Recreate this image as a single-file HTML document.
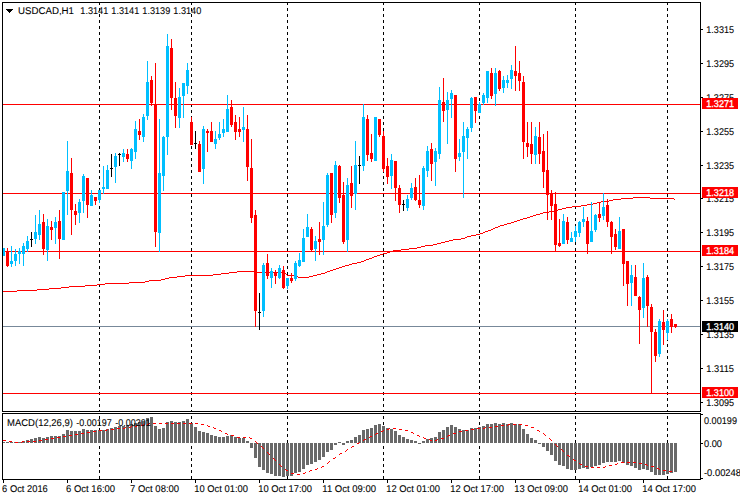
<!DOCTYPE html>
<html><head><meta charset="utf-8"><title>USDCAD,H1</title>
<style>
html,body{margin:0;padding:0;background:#fff;}
body{width:740px;height:500px;overflow:hidden;}
svg{display:block;}
svg rect{shape-rendering:crispEdges;}
svg text{font-family:"Liberation Sans",sans-serif;font-size:9.8px;text-rendering:geometricPrecision;stroke-width:0.08px;}
svg text.w{stroke-width:0.3px;}
</style></head><body>
<svg width="740" height="500" viewBox="0 0 740 500">
<rect x="0" y="0" width="740" height="500" fill="#fff"/>
<rect x="99" y="3" width="1" height="2" fill="#000000"/>
<rect x="99" y="8" width="1" height="3" fill="#000000"/>
<rect x="99" y="14" width="1" height="3" fill="#000000"/>
<rect x="99" y="20" width="1" height="3" fill="#000000"/>
<rect x="99" y="26" width="1" height="3" fill="#000000"/>
<rect x="99" y="32" width="1" height="3" fill="#000000"/>
<rect x="99" y="38" width="1" height="3" fill="#000000"/>
<rect x="99" y="44" width="1" height="3" fill="#000000"/>
<rect x="99" y="50" width="1" height="3" fill="#000000"/>
<rect x="99" y="56" width="1" height="3" fill="#000000"/>
<rect x="99" y="62" width="1" height="3" fill="#000000"/>
<rect x="99" y="68" width="1" height="3" fill="#000000"/>
<rect x="99" y="74" width="1" height="3" fill="#000000"/>
<rect x="99" y="80" width="1" height="3" fill="#000000"/>
<rect x="99" y="86" width="1" height="3" fill="#000000"/>
<rect x="99" y="92" width="1" height="3" fill="#000000"/>
<rect x="99" y="98" width="1" height="3" fill="#000000"/>
<rect x="99" y="104" width="1" height="3" fill="#000000"/>
<rect x="99" y="110" width="1" height="3" fill="#000000"/>
<rect x="99" y="116" width="1" height="3" fill="#000000"/>
<rect x="99" y="122" width="1" height="3" fill="#000000"/>
<rect x="99" y="128" width="1" height="3" fill="#000000"/>
<rect x="99" y="134" width="1" height="3" fill="#000000"/>
<rect x="99" y="140" width="1" height="3" fill="#000000"/>
<rect x="99" y="146" width="1" height="3" fill="#000000"/>
<rect x="99" y="152" width="1" height="3" fill="#000000"/>
<rect x="99" y="158" width="1" height="3" fill="#000000"/>
<rect x="99" y="164" width="1" height="3" fill="#000000"/>
<rect x="99" y="170" width="1" height="3" fill="#000000"/>
<rect x="99" y="176" width="1" height="3" fill="#000000"/>
<rect x="99" y="182" width="1" height="3" fill="#000000"/>
<rect x="99" y="188" width="1" height="3" fill="#000000"/>
<rect x="99" y="194" width="1" height="3" fill="#000000"/>
<rect x="99" y="200" width="1" height="3" fill="#000000"/>
<rect x="99" y="206" width="1" height="3" fill="#000000"/>
<rect x="99" y="212" width="1" height="3" fill="#000000"/>
<rect x="99" y="218" width="1" height="3" fill="#000000"/>
<rect x="99" y="224" width="1" height="3" fill="#000000"/>
<rect x="99" y="230" width="1" height="3" fill="#000000"/>
<rect x="99" y="236" width="1" height="3" fill="#000000"/>
<rect x="99" y="242" width="1" height="3" fill="#000000"/>
<rect x="99" y="248" width="1" height="3" fill="#000000"/>
<rect x="99" y="254" width="1" height="3" fill="#000000"/>
<rect x="99" y="260" width="1" height="3" fill="#000000"/>
<rect x="99" y="266" width="1" height="3" fill="#000000"/>
<rect x="99" y="272" width="1" height="3" fill="#000000"/>
<rect x="99" y="278" width="1" height="3" fill="#000000"/>
<rect x="99" y="284" width="1" height="3" fill="#000000"/>
<rect x="99" y="290" width="1" height="3" fill="#000000"/>
<rect x="99" y="296" width="1" height="3" fill="#000000"/>
<rect x="99" y="302" width="1" height="3" fill="#000000"/>
<rect x="99" y="308" width="1" height="3" fill="#000000"/>
<rect x="99" y="314" width="1" height="3" fill="#000000"/>
<rect x="99" y="320" width="1" height="3" fill="#000000"/>
<rect x="99" y="326" width="1" height="3" fill="#000000"/>
<rect x="99" y="332" width="1" height="3" fill="#000000"/>
<rect x="99" y="338" width="1" height="3" fill="#000000"/>
<rect x="99" y="344" width="1" height="3" fill="#000000"/>
<rect x="99" y="350" width="1" height="3" fill="#000000"/>
<rect x="99" y="356" width="1" height="3" fill="#000000"/>
<rect x="99" y="362" width="1" height="3" fill="#000000"/>
<rect x="99" y="368" width="1" height="3" fill="#000000"/>
<rect x="99" y="374" width="1" height="3" fill="#000000"/>
<rect x="99" y="380" width="1" height="3" fill="#000000"/>
<rect x="99" y="386" width="1" height="3" fill="#000000"/>
<rect x="99" y="392" width="1" height="3" fill="#000000"/>
<rect x="99" y="398" width="1" height="3" fill="#000000"/>
<rect x="99" y="404" width="1" height="3" fill="#000000"/>
<rect x="99" y="410" width="1" height="1" fill="#000000"/>
<rect x="99" y="416" width="1" height="3" fill="#000000"/>
<rect x="99" y="422" width="1" height="3" fill="#000000"/>
<rect x="99" y="428" width="1" height="3" fill="#000000"/>
<rect x="99" y="434" width="1" height="3" fill="#000000"/>
<rect x="99" y="440" width="1" height="3" fill="#000000"/>
<rect x="99" y="446" width="1" height="3" fill="#000000"/>
<rect x="99" y="452" width="1" height="3" fill="#000000"/>
<rect x="99" y="458" width="1" height="3" fill="#000000"/>
<rect x="99" y="464" width="1" height="3" fill="#000000"/>
<rect x="99" y="470" width="1" height="3" fill="#000000"/>
<rect x="99" y="476" width="1" height="3" fill="#000000"/>
<rect x="191" y="3" width="1" height="2" fill="#000000"/>
<rect x="191" y="8" width="1" height="3" fill="#000000"/>
<rect x="191" y="14" width="1" height="3" fill="#000000"/>
<rect x="191" y="20" width="1" height="3" fill="#000000"/>
<rect x="191" y="26" width="1" height="3" fill="#000000"/>
<rect x="191" y="32" width="1" height="3" fill="#000000"/>
<rect x="191" y="38" width="1" height="3" fill="#000000"/>
<rect x="191" y="44" width="1" height="3" fill="#000000"/>
<rect x="191" y="50" width="1" height="3" fill="#000000"/>
<rect x="191" y="56" width="1" height="3" fill="#000000"/>
<rect x="191" y="62" width="1" height="3" fill="#000000"/>
<rect x="191" y="68" width="1" height="3" fill="#000000"/>
<rect x="191" y="74" width="1" height="3" fill="#000000"/>
<rect x="191" y="80" width="1" height="3" fill="#000000"/>
<rect x="191" y="86" width="1" height="3" fill="#000000"/>
<rect x="191" y="92" width="1" height="3" fill="#000000"/>
<rect x="191" y="98" width="1" height="3" fill="#000000"/>
<rect x="191" y="104" width="1" height="3" fill="#000000"/>
<rect x="191" y="110" width="1" height="3" fill="#000000"/>
<rect x="191" y="116" width="1" height="3" fill="#000000"/>
<rect x="191" y="122" width="1" height="3" fill="#000000"/>
<rect x="191" y="128" width="1" height="3" fill="#000000"/>
<rect x="191" y="134" width="1" height="3" fill="#000000"/>
<rect x="191" y="140" width="1" height="3" fill="#000000"/>
<rect x="191" y="146" width="1" height="3" fill="#000000"/>
<rect x="191" y="152" width="1" height="3" fill="#000000"/>
<rect x="191" y="158" width="1" height="3" fill="#000000"/>
<rect x="191" y="164" width="1" height="3" fill="#000000"/>
<rect x="191" y="170" width="1" height="3" fill="#000000"/>
<rect x="191" y="176" width="1" height="3" fill="#000000"/>
<rect x="191" y="182" width="1" height="3" fill="#000000"/>
<rect x="191" y="188" width="1" height="3" fill="#000000"/>
<rect x="191" y="194" width="1" height="3" fill="#000000"/>
<rect x="191" y="200" width="1" height="3" fill="#000000"/>
<rect x="191" y="206" width="1" height="3" fill="#000000"/>
<rect x="191" y="212" width="1" height="3" fill="#000000"/>
<rect x="191" y="218" width="1" height="3" fill="#000000"/>
<rect x="191" y="224" width="1" height="3" fill="#000000"/>
<rect x="191" y="230" width="1" height="3" fill="#000000"/>
<rect x="191" y="236" width="1" height="3" fill="#000000"/>
<rect x="191" y="242" width="1" height="3" fill="#000000"/>
<rect x="191" y="248" width="1" height="3" fill="#000000"/>
<rect x="191" y="254" width="1" height="3" fill="#000000"/>
<rect x="191" y="260" width="1" height="3" fill="#000000"/>
<rect x="191" y="266" width="1" height="3" fill="#000000"/>
<rect x="191" y="272" width="1" height="3" fill="#000000"/>
<rect x="191" y="278" width="1" height="3" fill="#000000"/>
<rect x="191" y="284" width="1" height="3" fill="#000000"/>
<rect x="191" y="290" width="1" height="3" fill="#000000"/>
<rect x="191" y="296" width="1" height="3" fill="#000000"/>
<rect x="191" y="302" width="1" height="3" fill="#000000"/>
<rect x="191" y="308" width="1" height="3" fill="#000000"/>
<rect x="191" y="314" width="1" height="3" fill="#000000"/>
<rect x="191" y="320" width="1" height="3" fill="#000000"/>
<rect x="191" y="326" width="1" height="3" fill="#000000"/>
<rect x="191" y="332" width="1" height="3" fill="#000000"/>
<rect x="191" y="338" width="1" height="3" fill="#000000"/>
<rect x="191" y="344" width="1" height="3" fill="#000000"/>
<rect x="191" y="350" width="1" height="3" fill="#000000"/>
<rect x="191" y="356" width="1" height="3" fill="#000000"/>
<rect x="191" y="362" width="1" height="3" fill="#000000"/>
<rect x="191" y="368" width="1" height="3" fill="#000000"/>
<rect x="191" y="374" width="1" height="3" fill="#000000"/>
<rect x="191" y="380" width="1" height="3" fill="#000000"/>
<rect x="191" y="386" width="1" height="3" fill="#000000"/>
<rect x="191" y="392" width="1" height="3" fill="#000000"/>
<rect x="191" y="398" width="1" height="3" fill="#000000"/>
<rect x="191" y="404" width="1" height="3" fill="#000000"/>
<rect x="191" y="410" width="1" height="1" fill="#000000"/>
<rect x="191" y="416" width="1" height="3" fill="#000000"/>
<rect x="191" y="422" width="1" height="3" fill="#000000"/>
<rect x="191" y="428" width="1" height="3" fill="#000000"/>
<rect x="191" y="434" width="1" height="3" fill="#000000"/>
<rect x="191" y="440" width="1" height="3" fill="#000000"/>
<rect x="191" y="446" width="1" height="3" fill="#000000"/>
<rect x="191" y="452" width="1" height="3" fill="#000000"/>
<rect x="191" y="458" width="1" height="3" fill="#000000"/>
<rect x="191" y="464" width="1" height="3" fill="#000000"/>
<rect x="191" y="470" width="1" height="3" fill="#000000"/>
<rect x="191" y="476" width="1" height="3" fill="#000000"/>
<rect x="287" y="3" width="1" height="2" fill="#000000"/>
<rect x="287" y="8" width="1" height="3" fill="#000000"/>
<rect x="287" y="14" width="1" height="3" fill="#000000"/>
<rect x="287" y="20" width="1" height="3" fill="#000000"/>
<rect x="287" y="26" width="1" height="3" fill="#000000"/>
<rect x="287" y="32" width="1" height="3" fill="#000000"/>
<rect x="287" y="38" width="1" height="3" fill="#000000"/>
<rect x="287" y="44" width="1" height="3" fill="#000000"/>
<rect x="287" y="50" width="1" height="3" fill="#000000"/>
<rect x="287" y="56" width="1" height="3" fill="#000000"/>
<rect x="287" y="62" width="1" height="3" fill="#000000"/>
<rect x="287" y="68" width="1" height="3" fill="#000000"/>
<rect x="287" y="74" width="1" height="3" fill="#000000"/>
<rect x="287" y="80" width="1" height="3" fill="#000000"/>
<rect x="287" y="86" width="1" height="3" fill="#000000"/>
<rect x="287" y="92" width="1" height="3" fill="#000000"/>
<rect x="287" y="98" width="1" height="3" fill="#000000"/>
<rect x="287" y="104" width="1" height="3" fill="#000000"/>
<rect x="287" y="110" width="1" height="3" fill="#000000"/>
<rect x="287" y="116" width="1" height="3" fill="#000000"/>
<rect x="287" y="122" width="1" height="3" fill="#000000"/>
<rect x="287" y="128" width="1" height="3" fill="#000000"/>
<rect x="287" y="134" width="1" height="3" fill="#000000"/>
<rect x="287" y="140" width="1" height="3" fill="#000000"/>
<rect x="287" y="146" width="1" height="3" fill="#000000"/>
<rect x="287" y="152" width="1" height="3" fill="#000000"/>
<rect x="287" y="158" width="1" height="3" fill="#000000"/>
<rect x="287" y="164" width="1" height="3" fill="#000000"/>
<rect x="287" y="170" width="1" height="3" fill="#000000"/>
<rect x="287" y="176" width="1" height="3" fill="#000000"/>
<rect x="287" y="182" width="1" height="3" fill="#000000"/>
<rect x="287" y="188" width="1" height="3" fill="#000000"/>
<rect x="287" y="194" width="1" height="3" fill="#000000"/>
<rect x="287" y="200" width="1" height="3" fill="#000000"/>
<rect x="287" y="206" width="1" height="3" fill="#000000"/>
<rect x="287" y="212" width="1" height="3" fill="#000000"/>
<rect x="287" y="218" width="1" height="3" fill="#000000"/>
<rect x="287" y="224" width="1" height="3" fill="#000000"/>
<rect x="287" y="230" width="1" height="3" fill="#000000"/>
<rect x="287" y="236" width="1" height="3" fill="#000000"/>
<rect x="287" y="242" width="1" height="3" fill="#000000"/>
<rect x="287" y="248" width="1" height="3" fill="#000000"/>
<rect x="287" y="254" width="1" height="3" fill="#000000"/>
<rect x="287" y="260" width="1" height="3" fill="#000000"/>
<rect x="287" y="266" width="1" height="3" fill="#000000"/>
<rect x="287" y="272" width="1" height="3" fill="#000000"/>
<rect x="287" y="278" width="1" height="3" fill="#000000"/>
<rect x="287" y="284" width="1" height="3" fill="#000000"/>
<rect x="287" y="290" width="1" height="3" fill="#000000"/>
<rect x="287" y="296" width="1" height="3" fill="#000000"/>
<rect x="287" y="302" width="1" height="3" fill="#000000"/>
<rect x="287" y="308" width="1" height="3" fill="#000000"/>
<rect x="287" y="314" width="1" height="3" fill="#000000"/>
<rect x="287" y="320" width="1" height="3" fill="#000000"/>
<rect x="287" y="326" width="1" height="3" fill="#000000"/>
<rect x="287" y="332" width="1" height="3" fill="#000000"/>
<rect x="287" y="338" width="1" height="3" fill="#000000"/>
<rect x="287" y="344" width="1" height="3" fill="#000000"/>
<rect x="287" y="350" width="1" height="3" fill="#000000"/>
<rect x="287" y="356" width="1" height="3" fill="#000000"/>
<rect x="287" y="362" width="1" height="3" fill="#000000"/>
<rect x="287" y="368" width="1" height="3" fill="#000000"/>
<rect x="287" y="374" width="1" height="3" fill="#000000"/>
<rect x="287" y="380" width="1" height="3" fill="#000000"/>
<rect x="287" y="386" width="1" height="3" fill="#000000"/>
<rect x="287" y="392" width="1" height="3" fill="#000000"/>
<rect x="287" y="398" width="1" height="3" fill="#000000"/>
<rect x="287" y="404" width="1" height="3" fill="#000000"/>
<rect x="287" y="410" width="1" height="1" fill="#000000"/>
<rect x="287" y="416" width="1" height="3" fill="#000000"/>
<rect x="287" y="422" width="1" height="3" fill="#000000"/>
<rect x="287" y="428" width="1" height="3" fill="#000000"/>
<rect x="287" y="434" width="1" height="3" fill="#000000"/>
<rect x="287" y="440" width="1" height="3" fill="#000000"/>
<rect x="287" y="446" width="1" height="3" fill="#000000"/>
<rect x="287" y="452" width="1" height="3" fill="#000000"/>
<rect x="287" y="458" width="1" height="3" fill="#000000"/>
<rect x="287" y="464" width="1" height="3" fill="#000000"/>
<rect x="287" y="470" width="1" height="3" fill="#000000"/>
<rect x="287" y="476" width="1" height="3" fill="#000000"/>
<rect x="383" y="3" width="1" height="2" fill="#000000"/>
<rect x="383" y="8" width="1" height="3" fill="#000000"/>
<rect x="383" y="14" width="1" height="3" fill="#000000"/>
<rect x="383" y="20" width="1" height="3" fill="#000000"/>
<rect x="383" y="26" width="1" height="3" fill="#000000"/>
<rect x="383" y="32" width="1" height="3" fill="#000000"/>
<rect x="383" y="38" width="1" height="3" fill="#000000"/>
<rect x="383" y="44" width="1" height="3" fill="#000000"/>
<rect x="383" y="50" width="1" height="3" fill="#000000"/>
<rect x="383" y="56" width="1" height="3" fill="#000000"/>
<rect x="383" y="62" width="1" height="3" fill="#000000"/>
<rect x="383" y="68" width="1" height="3" fill="#000000"/>
<rect x="383" y="74" width="1" height="3" fill="#000000"/>
<rect x="383" y="80" width="1" height="3" fill="#000000"/>
<rect x="383" y="86" width="1" height="3" fill="#000000"/>
<rect x="383" y="92" width="1" height="3" fill="#000000"/>
<rect x="383" y="98" width="1" height="3" fill="#000000"/>
<rect x="383" y="104" width="1" height="3" fill="#000000"/>
<rect x="383" y="110" width="1" height="3" fill="#000000"/>
<rect x="383" y="116" width="1" height="3" fill="#000000"/>
<rect x="383" y="122" width="1" height="3" fill="#000000"/>
<rect x="383" y="128" width="1" height="3" fill="#000000"/>
<rect x="383" y="134" width="1" height="3" fill="#000000"/>
<rect x="383" y="140" width="1" height="3" fill="#000000"/>
<rect x="383" y="146" width="1" height="3" fill="#000000"/>
<rect x="383" y="152" width="1" height="3" fill="#000000"/>
<rect x="383" y="158" width="1" height="3" fill="#000000"/>
<rect x="383" y="164" width="1" height="3" fill="#000000"/>
<rect x="383" y="170" width="1" height="3" fill="#000000"/>
<rect x="383" y="176" width="1" height="3" fill="#000000"/>
<rect x="383" y="182" width="1" height="3" fill="#000000"/>
<rect x="383" y="188" width="1" height="3" fill="#000000"/>
<rect x="383" y="194" width="1" height="3" fill="#000000"/>
<rect x="383" y="200" width="1" height="3" fill="#000000"/>
<rect x="383" y="206" width="1" height="3" fill="#000000"/>
<rect x="383" y="212" width="1" height="3" fill="#000000"/>
<rect x="383" y="218" width="1" height="3" fill="#000000"/>
<rect x="383" y="224" width="1" height="3" fill="#000000"/>
<rect x="383" y="230" width="1" height="3" fill="#000000"/>
<rect x="383" y="236" width="1" height="3" fill="#000000"/>
<rect x="383" y="242" width="1" height="3" fill="#000000"/>
<rect x="383" y="248" width="1" height="3" fill="#000000"/>
<rect x="383" y="254" width="1" height="3" fill="#000000"/>
<rect x="383" y="260" width="1" height="3" fill="#000000"/>
<rect x="383" y="266" width="1" height="3" fill="#000000"/>
<rect x="383" y="272" width="1" height="3" fill="#000000"/>
<rect x="383" y="278" width="1" height="3" fill="#000000"/>
<rect x="383" y="284" width="1" height="3" fill="#000000"/>
<rect x="383" y="290" width="1" height="3" fill="#000000"/>
<rect x="383" y="296" width="1" height="3" fill="#000000"/>
<rect x="383" y="302" width="1" height="3" fill="#000000"/>
<rect x="383" y="308" width="1" height="3" fill="#000000"/>
<rect x="383" y="314" width="1" height="3" fill="#000000"/>
<rect x="383" y="320" width="1" height="3" fill="#000000"/>
<rect x="383" y="326" width="1" height="3" fill="#000000"/>
<rect x="383" y="332" width="1" height="3" fill="#000000"/>
<rect x="383" y="338" width="1" height="3" fill="#000000"/>
<rect x="383" y="344" width="1" height="3" fill="#000000"/>
<rect x="383" y="350" width="1" height="3" fill="#000000"/>
<rect x="383" y="356" width="1" height="3" fill="#000000"/>
<rect x="383" y="362" width="1" height="3" fill="#000000"/>
<rect x="383" y="368" width="1" height="3" fill="#000000"/>
<rect x="383" y="374" width="1" height="3" fill="#000000"/>
<rect x="383" y="380" width="1" height="3" fill="#000000"/>
<rect x="383" y="386" width="1" height="3" fill="#000000"/>
<rect x="383" y="392" width="1" height="3" fill="#000000"/>
<rect x="383" y="398" width="1" height="3" fill="#000000"/>
<rect x="383" y="404" width="1" height="3" fill="#000000"/>
<rect x="383" y="410" width="1" height="1" fill="#000000"/>
<rect x="383" y="416" width="1" height="3" fill="#000000"/>
<rect x="383" y="422" width="1" height="3" fill="#000000"/>
<rect x="383" y="428" width="1" height="3" fill="#000000"/>
<rect x="383" y="434" width="1" height="3" fill="#000000"/>
<rect x="383" y="440" width="1" height="3" fill="#000000"/>
<rect x="383" y="446" width="1" height="3" fill="#000000"/>
<rect x="383" y="452" width="1" height="3" fill="#000000"/>
<rect x="383" y="458" width="1" height="3" fill="#000000"/>
<rect x="383" y="464" width="1" height="3" fill="#000000"/>
<rect x="383" y="470" width="1" height="3" fill="#000000"/>
<rect x="383" y="476" width="1" height="3" fill="#000000"/>
<rect x="479" y="3" width="1" height="2" fill="#000000"/>
<rect x="479" y="8" width="1" height="3" fill="#000000"/>
<rect x="479" y="14" width="1" height="3" fill="#000000"/>
<rect x="479" y="20" width="1" height="3" fill="#000000"/>
<rect x="479" y="26" width="1" height="3" fill="#000000"/>
<rect x="479" y="32" width="1" height="3" fill="#000000"/>
<rect x="479" y="38" width="1" height="3" fill="#000000"/>
<rect x="479" y="44" width="1" height="3" fill="#000000"/>
<rect x="479" y="50" width="1" height="3" fill="#000000"/>
<rect x="479" y="56" width="1" height="3" fill="#000000"/>
<rect x="479" y="62" width="1" height="3" fill="#000000"/>
<rect x="479" y="68" width="1" height="3" fill="#000000"/>
<rect x="479" y="74" width="1" height="3" fill="#000000"/>
<rect x="479" y="80" width="1" height="3" fill="#000000"/>
<rect x="479" y="86" width="1" height="3" fill="#000000"/>
<rect x="479" y="92" width="1" height="3" fill="#000000"/>
<rect x="479" y="98" width="1" height="3" fill="#000000"/>
<rect x="479" y="104" width="1" height="3" fill="#000000"/>
<rect x="479" y="110" width="1" height="3" fill="#000000"/>
<rect x="479" y="116" width="1" height="3" fill="#000000"/>
<rect x="479" y="122" width="1" height="3" fill="#000000"/>
<rect x="479" y="128" width="1" height="3" fill="#000000"/>
<rect x="479" y="134" width="1" height="3" fill="#000000"/>
<rect x="479" y="140" width="1" height="3" fill="#000000"/>
<rect x="479" y="146" width="1" height="3" fill="#000000"/>
<rect x="479" y="152" width="1" height="3" fill="#000000"/>
<rect x="479" y="158" width="1" height="3" fill="#000000"/>
<rect x="479" y="164" width="1" height="3" fill="#000000"/>
<rect x="479" y="170" width="1" height="3" fill="#000000"/>
<rect x="479" y="176" width="1" height="3" fill="#000000"/>
<rect x="479" y="182" width="1" height="3" fill="#000000"/>
<rect x="479" y="188" width="1" height="3" fill="#000000"/>
<rect x="479" y="194" width="1" height="3" fill="#000000"/>
<rect x="479" y="200" width="1" height="3" fill="#000000"/>
<rect x="479" y="206" width="1" height="3" fill="#000000"/>
<rect x="479" y="212" width="1" height="3" fill="#000000"/>
<rect x="479" y="218" width="1" height="3" fill="#000000"/>
<rect x="479" y="224" width="1" height="3" fill="#000000"/>
<rect x="479" y="230" width="1" height="3" fill="#000000"/>
<rect x="479" y="236" width="1" height="3" fill="#000000"/>
<rect x="479" y="242" width="1" height="3" fill="#000000"/>
<rect x="479" y="248" width="1" height="3" fill="#000000"/>
<rect x="479" y="254" width="1" height="3" fill="#000000"/>
<rect x="479" y="260" width="1" height="3" fill="#000000"/>
<rect x="479" y="266" width="1" height="3" fill="#000000"/>
<rect x="479" y="272" width="1" height="3" fill="#000000"/>
<rect x="479" y="278" width="1" height="3" fill="#000000"/>
<rect x="479" y="284" width="1" height="3" fill="#000000"/>
<rect x="479" y="290" width="1" height="3" fill="#000000"/>
<rect x="479" y="296" width="1" height="3" fill="#000000"/>
<rect x="479" y="302" width="1" height="3" fill="#000000"/>
<rect x="479" y="308" width="1" height="3" fill="#000000"/>
<rect x="479" y="314" width="1" height="3" fill="#000000"/>
<rect x="479" y="320" width="1" height="3" fill="#000000"/>
<rect x="479" y="326" width="1" height="3" fill="#000000"/>
<rect x="479" y="332" width="1" height="3" fill="#000000"/>
<rect x="479" y="338" width="1" height="3" fill="#000000"/>
<rect x="479" y="344" width="1" height="3" fill="#000000"/>
<rect x="479" y="350" width="1" height="3" fill="#000000"/>
<rect x="479" y="356" width="1" height="3" fill="#000000"/>
<rect x="479" y="362" width="1" height="3" fill="#000000"/>
<rect x="479" y="368" width="1" height="3" fill="#000000"/>
<rect x="479" y="374" width="1" height="3" fill="#000000"/>
<rect x="479" y="380" width="1" height="3" fill="#000000"/>
<rect x="479" y="386" width="1" height="3" fill="#000000"/>
<rect x="479" y="392" width="1" height="3" fill="#000000"/>
<rect x="479" y="398" width="1" height="3" fill="#000000"/>
<rect x="479" y="404" width="1" height="3" fill="#000000"/>
<rect x="479" y="410" width="1" height="1" fill="#000000"/>
<rect x="479" y="416" width="1" height="3" fill="#000000"/>
<rect x="479" y="422" width="1" height="3" fill="#000000"/>
<rect x="479" y="428" width="1" height="3" fill="#000000"/>
<rect x="479" y="434" width="1" height="3" fill="#000000"/>
<rect x="479" y="440" width="1" height="3" fill="#000000"/>
<rect x="479" y="446" width="1" height="3" fill="#000000"/>
<rect x="479" y="452" width="1" height="3" fill="#000000"/>
<rect x="479" y="458" width="1" height="3" fill="#000000"/>
<rect x="479" y="464" width="1" height="3" fill="#000000"/>
<rect x="479" y="470" width="1" height="3" fill="#000000"/>
<rect x="479" y="476" width="1" height="3" fill="#000000"/>
<rect x="575" y="3" width="1" height="2" fill="#000000"/>
<rect x="575" y="8" width="1" height="3" fill="#000000"/>
<rect x="575" y="14" width="1" height="3" fill="#000000"/>
<rect x="575" y="20" width="1" height="3" fill="#000000"/>
<rect x="575" y="26" width="1" height="3" fill="#000000"/>
<rect x="575" y="32" width="1" height="3" fill="#000000"/>
<rect x="575" y="38" width="1" height="3" fill="#000000"/>
<rect x="575" y="44" width="1" height="3" fill="#000000"/>
<rect x="575" y="50" width="1" height="3" fill="#000000"/>
<rect x="575" y="56" width="1" height="3" fill="#000000"/>
<rect x="575" y="62" width="1" height="3" fill="#000000"/>
<rect x="575" y="68" width="1" height="3" fill="#000000"/>
<rect x="575" y="74" width="1" height="3" fill="#000000"/>
<rect x="575" y="80" width="1" height="3" fill="#000000"/>
<rect x="575" y="86" width="1" height="3" fill="#000000"/>
<rect x="575" y="92" width="1" height="3" fill="#000000"/>
<rect x="575" y="98" width="1" height="3" fill="#000000"/>
<rect x="575" y="104" width="1" height="3" fill="#000000"/>
<rect x="575" y="110" width="1" height="3" fill="#000000"/>
<rect x="575" y="116" width="1" height="3" fill="#000000"/>
<rect x="575" y="122" width="1" height="3" fill="#000000"/>
<rect x="575" y="128" width="1" height="3" fill="#000000"/>
<rect x="575" y="134" width="1" height="3" fill="#000000"/>
<rect x="575" y="140" width="1" height="3" fill="#000000"/>
<rect x="575" y="146" width="1" height="3" fill="#000000"/>
<rect x="575" y="152" width="1" height="3" fill="#000000"/>
<rect x="575" y="158" width="1" height="3" fill="#000000"/>
<rect x="575" y="164" width="1" height="3" fill="#000000"/>
<rect x="575" y="170" width="1" height="3" fill="#000000"/>
<rect x="575" y="176" width="1" height="3" fill="#000000"/>
<rect x="575" y="182" width="1" height="3" fill="#000000"/>
<rect x="575" y="188" width="1" height="3" fill="#000000"/>
<rect x="575" y="194" width="1" height="3" fill="#000000"/>
<rect x="575" y="200" width="1" height="3" fill="#000000"/>
<rect x="575" y="206" width="1" height="3" fill="#000000"/>
<rect x="575" y="212" width="1" height="3" fill="#000000"/>
<rect x="575" y="218" width="1" height="3" fill="#000000"/>
<rect x="575" y="224" width="1" height="3" fill="#000000"/>
<rect x="575" y="230" width="1" height="3" fill="#000000"/>
<rect x="575" y="236" width="1" height="3" fill="#000000"/>
<rect x="575" y="242" width="1" height="3" fill="#000000"/>
<rect x="575" y="248" width="1" height="3" fill="#000000"/>
<rect x="575" y="254" width="1" height="3" fill="#000000"/>
<rect x="575" y="260" width="1" height="3" fill="#000000"/>
<rect x="575" y="266" width="1" height="3" fill="#000000"/>
<rect x="575" y="272" width="1" height="3" fill="#000000"/>
<rect x="575" y="278" width="1" height="3" fill="#000000"/>
<rect x="575" y="284" width="1" height="3" fill="#000000"/>
<rect x="575" y="290" width="1" height="3" fill="#000000"/>
<rect x="575" y="296" width="1" height="3" fill="#000000"/>
<rect x="575" y="302" width="1" height="3" fill="#000000"/>
<rect x="575" y="308" width="1" height="3" fill="#000000"/>
<rect x="575" y="314" width="1" height="3" fill="#000000"/>
<rect x="575" y="320" width="1" height="3" fill="#000000"/>
<rect x="575" y="326" width="1" height="3" fill="#000000"/>
<rect x="575" y="332" width="1" height="3" fill="#000000"/>
<rect x="575" y="338" width="1" height="3" fill="#000000"/>
<rect x="575" y="344" width="1" height="3" fill="#000000"/>
<rect x="575" y="350" width="1" height="3" fill="#000000"/>
<rect x="575" y="356" width="1" height="3" fill="#000000"/>
<rect x="575" y="362" width="1" height="3" fill="#000000"/>
<rect x="575" y="368" width="1" height="3" fill="#000000"/>
<rect x="575" y="374" width="1" height="3" fill="#000000"/>
<rect x="575" y="380" width="1" height="3" fill="#000000"/>
<rect x="575" y="386" width="1" height="3" fill="#000000"/>
<rect x="575" y="392" width="1" height="3" fill="#000000"/>
<rect x="575" y="398" width="1" height="3" fill="#000000"/>
<rect x="575" y="404" width="1" height="3" fill="#000000"/>
<rect x="575" y="410" width="1" height="1" fill="#000000"/>
<rect x="575" y="416" width="1" height="3" fill="#000000"/>
<rect x="575" y="422" width="1" height="3" fill="#000000"/>
<rect x="575" y="428" width="1" height="3" fill="#000000"/>
<rect x="575" y="434" width="1" height="3" fill="#000000"/>
<rect x="575" y="440" width="1" height="3" fill="#000000"/>
<rect x="575" y="446" width="1" height="3" fill="#000000"/>
<rect x="575" y="452" width="1" height="3" fill="#000000"/>
<rect x="575" y="458" width="1" height="3" fill="#000000"/>
<rect x="575" y="464" width="1" height="3" fill="#000000"/>
<rect x="575" y="470" width="1" height="3" fill="#000000"/>
<rect x="575" y="476" width="1" height="3" fill="#000000"/>
<rect x="667" y="3" width="1" height="2" fill="#000000"/>
<rect x="667" y="8" width="1" height="3" fill="#000000"/>
<rect x="667" y="14" width="1" height="3" fill="#000000"/>
<rect x="667" y="20" width="1" height="3" fill="#000000"/>
<rect x="667" y="26" width="1" height="3" fill="#000000"/>
<rect x="667" y="32" width="1" height="3" fill="#000000"/>
<rect x="667" y="38" width="1" height="3" fill="#000000"/>
<rect x="667" y="44" width="1" height="3" fill="#000000"/>
<rect x="667" y="50" width="1" height="3" fill="#000000"/>
<rect x="667" y="56" width="1" height="3" fill="#000000"/>
<rect x="667" y="62" width="1" height="3" fill="#000000"/>
<rect x="667" y="68" width="1" height="3" fill="#000000"/>
<rect x="667" y="74" width="1" height="3" fill="#000000"/>
<rect x="667" y="80" width="1" height="3" fill="#000000"/>
<rect x="667" y="86" width="1" height="3" fill="#000000"/>
<rect x="667" y="92" width="1" height="3" fill="#000000"/>
<rect x="667" y="98" width="1" height="3" fill="#000000"/>
<rect x="667" y="104" width="1" height="3" fill="#000000"/>
<rect x="667" y="110" width="1" height="3" fill="#000000"/>
<rect x="667" y="116" width="1" height="3" fill="#000000"/>
<rect x="667" y="122" width="1" height="3" fill="#000000"/>
<rect x="667" y="128" width="1" height="3" fill="#000000"/>
<rect x="667" y="134" width="1" height="3" fill="#000000"/>
<rect x="667" y="140" width="1" height="3" fill="#000000"/>
<rect x="667" y="146" width="1" height="3" fill="#000000"/>
<rect x="667" y="152" width="1" height="3" fill="#000000"/>
<rect x="667" y="158" width="1" height="3" fill="#000000"/>
<rect x="667" y="164" width="1" height="3" fill="#000000"/>
<rect x="667" y="170" width="1" height="3" fill="#000000"/>
<rect x="667" y="176" width="1" height="3" fill="#000000"/>
<rect x="667" y="182" width="1" height="3" fill="#000000"/>
<rect x="667" y="188" width="1" height="3" fill="#000000"/>
<rect x="667" y="194" width="1" height="3" fill="#000000"/>
<rect x="667" y="200" width="1" height="3" fill="#000000"/>
<rect x="667" y="206" width="1" height="3" fill="#000000"/>
<rect x="667" y="212" width="1" height="3" fill="#000000"/>
<rect x="667" y="218" width="1" height="3" fill="#000000"/>
<rect x="667" y="224" width="1" height="3" fill="#000000"/>
<rect x="667" y="230" width="1" height="3" fill="#000000"/>
<rect x="667" y="236" width="1" height="3" fill="#000000"/>
<rect x="667" y="242" width="1" height="3" fill="#000000"/>
<rect x="667" y="248" width="1" height="3" fill="#000000"/>
<rect x="667" y="254" width="1" height="3" fill="#000000"/>
<rect x="667" y="260" width="1" height="3" fill="#000000"/>
<rect x="667" y="266" width="1" height="3" fill="#000000"/>
<rect x="667" y="272" width="1" height="3" fill="#000000"/>
<rect x="667" y="278" width="1" height="3" fill="#000000"/>
<rect x="667" y="284" width="1" height="3" fill="#000000"/>
<rect x="667" y="290" width="1" height="3" fill="#000000"/>
<rect x="667" y="296" width="1" height="3" fill="#000000"/>
<rect x="667" y="302" width="1" height="3" fill="#000000"/>
<rect x="667" y="308" width="1" height="3" fill="#000000"/>
<rect x="667" y="314" width="1" height="3" fill="#000000"/>
<rect x="667" y="320" width="1" height="3" fill="#000000"/>
<rect x="667" y="326" width="1" height="3" fill="#000000"/>
<rect x="667" y="332" width="1" height="3" fill="#000000"/>
<rect x="667" y="338" width="1" height="3" fill="#000000"/>
<rect x="667" y="344" width="1" height="3" fill="#000000"/>
<rect x="667" y="350" width="1" height="3" fill="#000000"/>
<rect x="667" y="356" width="1" height="3" fill="#000000"/>
<rect x="667" y="362" width="1" height="3" fill="#000000"/>
<rect x="667" y="368" width="1" height="3" fill="#000000"/>
<rect x="667" y="374" width="1" height="3" fill="#000000"/>
<rect x="667" y="380" width="1" height="3" fill="#000000"/>
<rect x="667" y="386" width="1" height="3" fill="#000000"/>
<rect x="667" y="392" width="1" height="3" fill="#000000"/>
<rect x="667" y="398" width="1" height="3" fill="#000000"/>
<rect x="667" y="404" width="1" height="3" fill="#000000"/>
<rect x="667" y="410" width="1" height="1" fill="#000000"/>
<rect x="667" y="416" width="1" height="3" fill="#000000"/>
<rect x="667" y="422" width="1" height="3" fill="#000000"/>
<rect x="667" y="428" width="1" height="3" fill="#000000"/>
<rect x="667" y="434" width="1" height="3" fill="#000000"/>
<rect x="667" y="440" width="1" height="3" fill="#000000"/>
<rect x="667" y="446" width="1" height="3" fill="#000000"/>
<rect x="667" y="452" width="1" height="3" fill="#000000"/>
<rect x="667" y="458" width="1" height="3" fill="#000000"/>
<rect x="667" y="464" width="1" height="3" fill="#000000"/>
<rect x="667" y="470" width="1" height="3" fill="#000000"/>
<rect x="667" y="476" width="1" height="3" fill="#000000"/>
<rect x="3" y="104" width="697" height="1" fill="#FF0000"/>
<rect x="3" y="193" width="697" height="1" fill="#FF0000"/>
<rect x="3" y="251" width="697" height="1" fill="#FF0000"/>
<rect x="3" y="393" width="697" height="1" fill="#FF0000"/>
<rect x="3" y="326" width="697" height="1" fill="#778899"/>
<rect x="3" y="291" width="14" height="1" fill="#FF0000"/>
<rect x="17" y="290" width="20" height="1" fill="#FF0000"/>
<rect x="37" y="289" width="12" height="1" fill="#FF0000"/>
<rect x="49" y="288" width="12" height="1" fill="#FF0000"/>
<rect x="61" y="287" width="8" height="1" fill="#FF0000"/>
<rect x="69" y="286" width="16" height="1" fill="#FF0000"/>
<rect x="85" y="285" width="12" height="1" fill="#FF0000"/>
<rect x="97" y="284" width="8" height="1" fill="#FF0000"/>
<rect x="105" y="283" width="24" height="1" fill="#FF0000"/>
<rect x="129" y="282" width="16" height="1" fill="#FF0000"/>
<rect x="145" y="281" width="4" height="1" fill="#FF0000"/>
<rect x="149" y="280" width="12" height="1" fill="#FF0000"/>
<rect x="161" y="279" width="4" height="1" fill="#FF0000"/>
<rect x="165" y="278" width="4" height="1" fill="#FF0000"/>
<rect x="169" y="277" width="8" height="1" fill="#FF0000"/>
<rect x="177" y="276" width="8" height="1" fill="#FF0000"/>
<rect x="185" y="275" width="28" height="1" fill="#FF0000"/>
<rect x="213" y="274" width="8" height="1" fill="#FF0000"/>
<rect x="221" y="273" width="8" height="1" fill="#FF0000"/>
<rect x="229" y="272" width="8" height="1" fill="#FF0000"/>
<rect x="237" y="271" width="18" height="1" fill="#FF0000"/>
<rect x="255" y="272" width="30" height="1" fill="#FF0000"/>
<rect x="285" y="273" width="1" height="1" fill="#FF0000"/>
<rect x="286" y="274" width="1" height="1" fill="#FF0000"/>
<rect x="287" y="275" width="10" height="1" fill="#FF0000"/>
<rect x="297" y="276" width="1" height="1" fill="#FF0000"/>
<rect x="298" y="277" width="11" height="1" fill="#FF0000"/>
<rect x="309" y="276" width="4" height="1" fill="#FF0000"/>
<rect x="313" y="275" width="4" height="1" fill="#FF0000"/>
<rect x="317" y="274" width="4" height="1" fill="#FF0000"/>
<rect x="321" y="273" width="4" height="1" fill="#FF0000"/>
<rect x="325" y="272" width="2" height="1" fill="#FF0000"/>
<rect x="327" y="271" width="3" height="1" fill="#FF0000"/>
<rect x="330" y="270" width="3" height="1" fill="#FF0000"/>
<rect x="333" y="269" width="3" height="1" fill="#FF0000"/>
<rect x="336" y="268" width="3" height="1" fill="#FF0000"/>
<rect x="339" y="267" width="3" height="1" fill="#FF0000"/>
<rect x="342" y="266" width="3" height="1" fill="#FF0000"/>
<rect x="345" y="265" width="4" height="1" fill="#FF0000"/>
<rect x="349" y="264" width="3" height="1" fill="#FF0000"/>
<rect x="352" y="263" width="5" height="1" fill="#FF0000"/>
<rect x="357" y="262" width="4" height="1" fill="#FF0000"/>
<rect x="361" y="261" width="3" height="1" fill="#FF0000"/>
<rect x="364" y="260" width="2" height="1" fill="#FF0000"/>
<rect x="366" y="259" width="3" height="1" fill="#FF0000"/>
<rect x="369" y="258" width="3" height="1" fill="#FF0000"/>
<rect x="372" y="257" width="2" height="1" fill="#FF0000"/>
<rect x="374" y="256" width="3" height="1" fill="#FF0000"/>
<rect x="377" y="255" width="3" height="1" fill="#FF0000"/>
<rect x="380" y="254" width="3" height="1" fill="#FF0000"/>
<rect x="383" y="253" width="4" height="1" fill="#FF0000"/>
<rect x="387" y="252" width="3" height="1" fill="#FF0000"/>
<rect x="390" y="251" width="3" height="1" fill="#FF0000"/>
<rect x="393" y="250" width="8" height="1" fill="#FF0000"/>
<rect x="401" y="249" width="8" height="1" fill="#FF0000"/>
<rect x="409" y="248" width="8" height="1" fill="#FF0000"/>
<rect x="417" y="247" width="4" height="1" fill="#FF0000"/>
<rect x="421" y="246" width="4" height="1" fill="#FF0000"/>
<rect x="425" y="245" width="8" height="1" fill="#FF0000"/>
<rect x="433" y="244" width="4" height="1" fill="#FF0000"/>
<rect x="437" y="243" width="4" height="1" fill="#FF0000"/>
<rect x="441" y="242" width="4" height="1" fill="#FF0000"/>
<rect x="445" y="241" width="4" height="1" fill="#FF0000"/>
<rect x="449" y="240" width="4" height="1" fill="#FF0000"/>
<rect x="453" y="239" width="8" height="1" fill="#FF0000"/>
<rect x="461" y="238" width="4" height="1" fill="#FF0000"/>
<rect x="465" y="237" width="2" height="1" fill="#FF0000"/>
<rect x="467" y="236" width="4" height="1" fill="#FF0000"/>
<rect x="471" y="235" width="5" height="1" fill="#FF0000"/>
<rect x="476" y="234" width="4" height="1" fill="#FF0000"/>
<rect x="480" y="233" width="3" height="1" fill="#FF0000"/>
<rect x="483" y="232" width="2" height="1" fill="#FF0000"/>
<rect x="485" y="231" width="3" height="1" fill="#FF0000"/>
<rect x="488" y="230" width="3" height="1" fill="#FF0000"/>
<rect x="491" y="229" width="2" height="1" fill="#FF0000"/>
<rect x="493" y="228" width="2" height="1" fill="#FF0000"/>
<rect x="495" y="227" width="3" height="1" fill="#FF0000"/>
<rect x="498" y="226" width="2" height="1" fill="#FF0000"/>
<rect x="500" y="225" width="4" height="1" fill="#FF0000"/>
<rect x="504" y="224" width="3" height="1" fill="#FF0000"/>
<rect x="507" y="223" width="4" height="1" fill="#FF0000"/>
<rect x="511" y="222" width="3" height="1" fill="#FF0000"/>
<rect x="514" y="221" width="3" height="1" fill="#FF0000"/>
<rect x="517" y="220" width="3" height="1" fill="#FF0000"/>
<rect x="520" y="219" width="3" height="1" fill="#FF0000"/>
<rect x="523" y="218" width="4" height="1" fill="#FF0000"/>
<rect x="527" y="217" width="3" height="1" fill="#FF0000"/>
<rect x="530" y="216" width="3" height="1" fill="#FF0000"/>
<rect x="533" y="215" width="3" height="1" fill="#FF0000"/>
<rect x="536" y="214" width="4" height="1" fill="#FF0000"/>
<rect x="540" y="213" width="3" height="1" fill="#FF0000"/>
<rect x="543" y="212" width="6" height="1" fill="#FF0000"/>
<rect x="549" y="211" width="6" height="1" fill="#FF0000"/>
<rect x="555" y="210" width="3" height="1" fill="#FF0000"/>
<rect x="558" y="209" width="4" height="1" fill="#FF0000"/>
<rect x="562" y="208" width="4" height="1" fill="#FF0000"/>
<rect x="566" y="207" width="6" height="1" fill="#FF0000"/>
<rect x="572" y="206" width="9" height="1" fill="#FF0000"/>
<rect x="581" y="205" width="6" height="1" fill="#FF0000"/>
<rect x="587" y="204" width="6" height="1" fill="#FF0000"/>
<rect x="593" y="203" width="4" height="1" fill="#FF0000"/>
<rect x="597" y="202" width="4" height="1" fill="#FF0000"/>
<rect x="601" y="201" width="8" height="1" fill="#FF0000"/>
<rect x="609" y="200" width="4" height="1" fill="#FF0000"/>
<rect x="613" y="199" width="8" height="1" fill="#FF0000"/>
<rect x="621" y="198" width="12" height="1" fill="#FF0000"/>
<rect x="633" y="197" width="17" height="1" fill="#FF0000"/>
<rect x="650" y="198" width="24" height="1" fill="#FF0000"/>
<rect x="674" y="199" width="1" height="1" fill="#FF0000"/>
<rect x="3" y="248" width="1" height="8" fill="#00BFFF"/>
<rect x="2" y="248" width="3" height="8" fill="#00BFFF"/>
<rect x="7" y="248" width="1" height="19" fill="#FF0000"/>
<rect x="6" y="251" width="3" height="15" fill="#FF0000"/>
<rect x="11" y="246" width="1" height="21" fill="#00BFFF"/>
<rect x="10" y="261" width="3" height="3" fill="#00BFFF"/>
<rect x="15" y="249" width="1" height="17" fill="#00BFFF"/>
<rect x="14" y="254" width="3" height="7" fill="#00BFFF"/>
<rect x="19" y="248" width="1" height="16" fill="#00BFFF"/>
<rect x="18" y="251" width="3" height="3" fill="#00BFFF"/>
<rect x="23" y="243" width="1" height="23" fill="#00BFFF"/>
<rect x="22" y="246" width="3" height="8" fill="#00BFFF"/>
<rect x="27" y="236" width="1" height="16" fill="#00BFFF"/>
<rect x="26" y="241" width="3" height="8" fill="#00BFFF"/>
<rect x="31" y="232" width="1" height="15" fill="#000000"/>
<rect x="30" y="239" width="3" height="1" fill="#000000"/>
<rect x="35" y="215" width="1" height="29" fill="#00BFFF"/>
<rect x="34" y="232" width="3" height="7" fill="#00BFFF"/>
<rect x="39" y="210" width="1" height="30" fill="#00BFFF"/>
<rect x="38" y="224" width="3" height="11" fill="#00BFFF"/>
<rect x="43" y="214" width="1" height="41" fill="#FF0000"/>
<rect x="42" y="222" width="3" height="27" fill="#FF0000"/>
<rect x="47" y="219" width="1" height="42" fill="#00BFFF"/>
<rect x="46" y="226" width="3" height="24" fill="#00BFFF"/>
<rect x="51" y="221" width="1" height="19" fill="#FF0000"/>
<rect x="50" y="227" width="3" height="3" fill="#FF0000"/>
<rect x="55" y="217" width="1" height="27" fill="#00BFFF"/>
<rect x="54" y="222" width="3" height="6" fill="#00BFFF"/>
<rect x="59" y="210" width="1" height="49" fill="#FF0000"/>
<rect x="58" y="221" width="3" height="18" fill="#FF0000"/>
<rect x="63" y="192" width="1" height="48" fill="#00BFFF"/>
<rect x="62" y="192" width="3" height="48" fill="#00BFFF"/>
<rect x="67" y="141" width="1" height="74" fill="#00BFFF"/>
<rect x="66" y="171" width="3" height="20" fill="#00BFFF"/>
<rect x="71" y="158" width="1" height="77" fill="#FF0000"/>
<rect x="70" y="173" width="3" height="37" fill="#FF0000"/>
<rect x="75" y="204" width="1" height="21" fill="#FF0000"/>
<rect x="74" y="211" width="3" height="4" fill="#FF0000"/>
<rect x="79" y="199" width="1" height="24" fill="#00BFFF"/>
<rect x="78" y="202" width="3" height="11" fill="#00BFFF"/>
<rect x="83" y="174" width="1" height="39" fill="#00BFFF"/>
<rect x="82" y="176" width="3" height="25" fill="#00BFFF"/>
<rect x="87" y="178" width="1" height="40" fill="#FF0000"/>
<rect x="86" y="178" width="3" height="27" fill="#FF0000"/>
<rect x="91" y="190" width="1" height="16" fill="#00BFFF"/>
<rect x="90" y="195" width="3" height="11" fill="#00BFFF"/>
<rect x="95" y="197" width="1" height="8" fill="#FF0000"/>
<rect x="94" y="197" width="3" height="4" fill="#FF0000"/>
<rect x="99" y="190" width="1" height="13" fill="#00BFFF"/>
<rect x="98" y="190" width="3" height="10" fill="#00BFFF"/>
<rect x="103" y="166" width="1" height="28" fill="#00BFFF"/>
<rect x="102" y="187" width="3" height="2" fill="#00BFFF"/>
<rect x="107" y="165" width="1" height="24" fill="#00BFFF"/>
<rect x="106" y="170" width="3" height="19" fill="#00BFFF"/>
<rect x="111" y="154" width="1" height="23" fill="#000000"/>
<rect x="110" y="168" width="3" height="1" fill="#000000"/>
<rect x="115" y="153" width="1" height="30" fill="#00BFFF"/>
<rect x="114" y="156" width="3" height="11" fill="#00BFFF"/>
<rect x="119" y="153" width="1" height="13" fill="#000000"/>
<rect x="118" y="154" width="3" height="1" fill="#000000"/>
<rect x="123" y="149" width="1" height="13" fill="#00BFFF"/>
<rect x="122" y="153" width="3" height="4" fill="#00BFFF"/>
<rect x="127" y="149" width="1" height="13" fill="#FF0000"/>
<rect x="126" y="154" width="3" height="5" fill="#FF0000"/>
<rect x="131" y="148" width="1" height="21" fill="#00BFFF"/>
<rect x="130" y="149" width="3" height="12" fill="#00BFFF"/>
<rect x="135" y="121" width="1" height="38" fill="#00BFFF"/>
<rect x="134" y="129" width="3" height="23" fill="#00BFFF"/>
<rect x="139" y="119" width="1" height="21" fill="#FF0000"/>
<rect x="138" y="131" width="3" height="4" fill="#FF0000"/>
<rect x="143" y="114" width="1" height="28" fill="#00BFFF"/>
<rect x="142" y="117" width="3" height="20" fill="#00BFFF"/>
<rect x="147" y="61" width="1" height="59" fill="#00BFFF"/>
<rect x="146" y="82" width="3" height="34" fill="#00BFFF"/>
<rect x="151" y="76" width="1" height="30" fill="#FF0000"/>
<rect x="150" y="80" width="3" height="23" fill="#FF0000"/>
<rect x="155" y="63" width="1" height="184" fill="#FF0000"/>
<rect x="154" y="104" width="3" height="128" fill="#FF0000"/>
<rect x="159" y="119" width="1" height="133" fill="#00BFFF"/>
<rect x="158" y="173" width="3" height="60" fill="#00BFFF"/>
<rect x="163" y="136" width="1" height="55" fill="#00BFFF"/>
<rect x="162" y="137" width="3" height="39" fill="#00BFFF"/>
<rect x="167" y="34" width="1" height="121" fill="#00BFFF"/>
<rect x="166" y="46" width="3" height="91" fill="#00BFFF"/>
<rect x="171" y="39" width="1" height="71" fill="#FF0000"/>
<rect x="170" y="48" width="3" height="50" fill="#FF0000"/>
<rect x="175" y="82" width="1" height="46" fill="#FF0000"/>
<rect x="174" y="98" width="3" height="18" fill="#FF0000"/>
<rect x="179" y="88" width="1" height="40" fill="#00BFFF"/>
<rect x="178" y="97" width="3" height="21" fill="#00BFFF"/>
<rect x="183" y="83" width="1" height="35" fill="#00BFFF"/>
<rect x="182" y="83" width="3" height="13" fill="#00BFFF"/>
<rect x="187" y="63" width="1" height="31" fill="#00BFFF"/>
<rect x="186" y="70" width="3" height="16" fill="#00BFFF"/>
<rect x="191" y="117" width="1" height="28" fill="#FF0000"/>
<rect x="190" y="122" width="3" height="23" fill="#FF0000"/>
<rect x="195" y="131" width="1" height="18" fill="#000000"/>
<rect x="194" y="143" width="3" height="1" fill="#000000"/>
<rect x="199" y="141" width="1" height="31" fill="#FF0000"/>
<rect x="198" y="144" width="3" height="28" fill="#FF0000"/>
<rect x="203" y="126" width="1" height="58" fill="#00BFFF"/>
<rect x="202" y="129" width="3" height="40" fill="#00BFFF"/>
<rect x="207" y="129" width="1" height="23" fill="#FF0000"/>
<rect x="206" y="131" width="3" height="2" fill="#FF0000"/>
<rect x="211" y="122" width="1" height="20" fill="#FF0000"/>
<rect x="210" y="131" width="3" height="11" fill="#FF0000"/>
<rect x="215" y="131" width="1" height="18" fill="#00BFFF"/>
<rect x="214" y="139" width="3" height="5" fill="#00BFFF"/>
<rect x="219" y="122" width="1" height="18" fill="#00BFFF"/>
<rect x="218" y="134" width="3" height="4" fill="#00BFFF"/>
<rect x="223" y="119" width="1" height="18" fill="#00BFFF"/>
<rect x="222" y="129" width="3" height="4" fill="#00BFFF"/>
<rect x="227" y="95" width="1" height="37" fill="#00BFFF"/>
<rect x="226" y="109" width="3" height="23" fill="#00BFFF"/>
<rect x="231" y="100" width="1" height="27" fill="#FF0000"/>
<rect x="230" y="107" width="3" height="18" fill="#FF0000"/>
<rect x="235" y="115" width="1" height="25" fill="#FF0000"/>
<rect x="234" y="122" width="3" height="10" fill="#FF0000"/>
<rect x="239" y="117" width="1" height="20" fill="#FF0000"/>
<rect x="238" y="129" width="3" height="3" fill="#FF0000"/>
<rect x="243" y="107" width="1" height="35" fill="#00BFFF"/>
<rect x="242" y="127" width="3" height="3" fill="#00BFFF"/>
<rect x="247" y="115" width="1" height="66" fill="#FF0000"/>
<rect x="246" y="129" width="3" height="38" fill="#FF0000"/>
<rect x="251" y="139" width="1" height="84" fill="#FF0000"/>
<rect x="250" y="168" width="3" height="50" fill="#FF0000"/>
<rect x="255" y="210" width="1" height="117" fill="#FF0000"/>
<rect x="254" y="215" width="3" height="96" fill="#FF0000"/>
<rect x="259" y="293" width="1" height="37" fill="#000000"/>
<rect x="258" y="312" width="3" height="1" fill="#000000"/>
<rect x="263" y="263" width="1" height="54" fill="#00BFFF"/>
<rect x="262" y="265" width="3" height="46" fill="#00BFFF"/>
<rect x="267" y="254" width="1" height="25" fill="#FF0000"/>
<rect x="266" y="263" width="3" height="13" fill="#FF0000"/>
<rect x="271" y="268" width="1" height="20" fill="#00BFFF"/>
<rect x="270" y="271" width="3" height="7" fill="#00BFFF"/>
<rect x="275" y="270" width="1" height="14" fill="#FF0000"/>
<rect x="274" y="273" width="3" height="3" fill="#FF0000"/>
<rect x="279" y="265" width="1" height="14" fill="#00BFFF"/>
<rect x="278" y="268" width="3" height="10" fill="#00BFFF"/>
<rect x="283" y="266" width="1" height="23" fill="#FF0000"/>
<rect x="282" y="270" width="3" height="18" fill="#FF0000"/>
<rect x="287" y="278" width="1" height="11" fill="#00BFFF"/>
<rect x="286" y="278" width="3" height="8" fill="#00BFFF"/>
<rect x="291" y="273" width="1" height="10" fill="#FF0000"/>
<rect x="290" y="278" width="3" height="3" fill="#FF0000"/>
<rect x="295" y="261" width="1" height="20" fill="#00BFFF"/>
<rect x="294" y="263" width="3" height="16" fill="#00BFFF"/>
<rect x="299" y="253" width="1" height="14" fill="#00BFFF"/>
<rect x="298" y="260" width="3" height="6" fill="#00BFFF"/>
<rect x="303" y="229" width="1" height="33" fill="#00BFFF"/>
<rect x="302" y="238" width="3" height="24" fill="#00BFFF"/>
<rect x="307" y="214" width="1" height="23" fill="#00BFFF"/>
<rect x="306" y="227" width="3" height="10" fill="#00BFFF"/>
<rect x="311" y="227" width="1" height="24" fill="#FF0000"/>
<rect x="310" y="229" width="3" height="21" fill="#FF0000"/>
<rect x="315" y="236" width="1" height="25" fill="#00BFFF"/>
<rect x="314" y="241" width="3" height="8" fill="#00BFFF"/>
<rect x="319" y="222" width="1" height="33" fill="#FF0000"/>
<rect x="318" y="239" width="3" height="3" fill="#FF0000"/>
<rect x="323" y="202" width="1" height="53" fill="#00BFFF"/>
<rect x="322" y="226" width="3" height="14" fill="#00BFFF"/>
<rect x="327" y="173" width="1" height="54" fill="#00BFFF"/>
<rect x="326" y="175" width="3" height="50" fill="#00BFFF"/>
<rect x="331" y="173" width="1" height="50" fill="#FF0000"/>
<rect x="330" y="173" width="3" height="42" fill="#FF0000"/>
<rect x="335" y="161" width="1" height="57" fill="#00BFFF"/>
<rect x="334" y="165" width="3" height="48" fill="#00BFFF"/>
<rect x="339" y="165" width="1" height="38" fill="#FF0000"/>
<rect x="338" y="166" width="3" height="32" fill="#FF0000"/>
<rect x="343" y="182" width="1" height="62" fill="#FF0000"/>
<rect x="342" y="195" width="3" height="47" fill="#FF0000"/>
<rect x="347" y="178" width="1" height="74" fill="#00BFFF"/>
<rect x="346" y="185" width="3" height="55" fill="#00BFFF"/>
<rect x="351" y="166" width="1" height="42" fill="#FF0000"/>
<rect x="350" y="183" width="3" height="13" fill="#FF0000"/>
<rect x="355" y="141" width="1" height="69" fill="#00BFFF"/>
<rect x="354" y="165" width="3" height="29" fill="#00BFFF"/>
<rect x="359" y="156" width="1" height="28" fill="#000000"/>
<rect x="358" y="165" width="3" height="1" fill="#000000"/>
<rect x="363" y="104" width="1" height="67" fill="#00BFFF"/>
<rect x="362" y="117" width="3" height="49" fill="#00BFFF"/>
<rect x="367" y="115" width="1" height="46" fill="#FF0000"/>
<rect x="366" y="119" width="3" height="36" fill="#FF0000"/>
<rect x="371" y="134" width="1" height="28" fill="#FF0000"/>
<rect x="370" y="153" width="3" height="6" fill="#FF0000"/>
<rect x="375" y="117" width="1" height="44" fill="#00BFFF"/>
<rect x="374" y="117" width="3" height="44" fill="#00BFFF"/>
<rect x="379" y="119" width="1" height="18" fill="#FF0000"/>
<rect x="378" y="119" width="3" height="16" fill="#FF0000"/>
<rect x="383" y="131" width="1" height="41" fill="#FF0000"/>
<rect x="382" y="136" width="3" height="33" fill="#FF0000"/>
<rect x="387" y="158" width="1" height="26" fill="#FF0000"/>
<rect x="386" y="166" width="3" height="11" fill="#FF0000"/>
<rect x="391" y="154" width="1" height="35" fill="#00BFFF"/>
<rect x="390" y="160" width="3" height="16" fill="#00BFFF"/>
<rect x="395" y="161" width="1" height="40" fill="#FF0000"/>
<rect x="394" y="161" width="3" height="27" fill="#FF0000"/>
<rect x="399" y="185" width="1" height="28" fill="#FF0000"/>
<rect x="398" y="188" width="3" height="17" fill="#FF0000"/>
<rect x="403" y="200" width="1" height="11" fill="#000000"/>
<rect x="402" y="204" width="3" height="1" fill="#000000"/>
<rect x="407" y="195" width="1" height="16" fill="#00BFFF"/>
<rect x="406" y="199" width="3" height="9" fill="#00BFFF"/>
<rect x="411" y="183" width="1" height="17" fill="#00BFFF"/>
<rect x="410" y="188" width="3" height="10" fill="#00BFFF"/>
<rect x="415" y="178" width="1" height="23" fill="#FF0000"/>
<rect x="414" y="187" width="3" height="13" fill="#FF0000"/>
<rect x="419" y="175" width="1" height="33" fill="#FF0000"/>
<rect x="418" y="200" width="3" height="5" fill="#FF0000"/>
<rect x="423" y="166" width="1" height="44" fill="#00BFFF"/>
<rect x="422" y="168" width="3" height="38" fill="#00BFFF"/>
<rect x="427" y="146" width="1" height="31" fill="#00BFFF"/>
<rect x="426" y="151" width="3" height="20" fill="#00BFFF"/>
<rect x="431" y="143" width="1" height="38" fill="#FF0000"/>
<rect x="430" y="149" width="3" height="15" fill="#FF0000"/>
<rect x="435" y="148" width="1" height="38" fill="#00BFFF"/>
<rect x="434" y="151" width="3" height="11" fill="#00BFFF"/>
<rect x="439" y="87" width="1" height="72" fill="#00BFFF"/>
<rect x="438" y="100" width="3" height="54" fill="#00BFFF"/>
<rect x="443" y="78" width="1" height="44" fill="#FF0000"/>
<rect x="442" y="102" width="3" height="9" fill="#FF0000"/>
<rect x="447" y="92" width="1" height="52" fill="#00BFFF"/>
<rect x="446" y="100" width="3" height="10" fill="#00BFFF"/>
<rect x="451" y="90" width="1" height="28" fill="#00BFFF"/>
<rect x="450" y="93" width="3" height="6" fill="#00BFFF"/>
<rect x="455" y="95" width="1" height="77" fill="#FF0000"/>
<rect x="454" y="95" width="3" height="64" fill="#FF0000"/>
<rect x="459" y="139" width="1" height="22" fill="#00BFFF"/>
<rect x="458" y="153" width="3" height="4" fill="#00BFFF"/>
<rect x="463" y="122" width="1" height="76" fill="#00BFFF"/>
<rect x="462" y="136" width="3" height="16" fill="#00BFFF"/>
<rect x="467" y="127" width="1" height="32" fill="#00BFFF"/>
<rect x="466" y="129" width="3" height="9" fill="#00BFFF"/>
<rect x="471" y="97" width="1" height="35" fill="#00BFFF"/>
<rect x="470" y="98" width="3" height="30" fill="#00BFFF"/>
<rect x="475" y="97" width="1" height="26" fill="#FF0000"/>
<rect x="474" y="97" width="3" height="14" fill="#FF0000"/>
<rect x="479" y="102" width="1" height="11" fill="#00BFFF"/>
<rect x="478" y="104" width="3" height="9" fill="#00BFFF"/>
<rect x="483" y="93" width="1" height="12" fill="#00BFFF"/>
<rect x="482" y="95" width="3" height="8" fill="#00BFFF"/>
<rect x="487" y="71" width="1" height="32" fill="#00BFFF"/>
<rect x="486" y="71" width="3" height="27" fill="#00BFFF"/>
<rect x="491" y="68" width="1" height="31" fill="#FF0000"/>
<rect x="490" y="73" width="3" height="23" fill="#FF0000"/>
<rect x="495" y="68" width="1" height="38" fill="#00BFFF"/>
<rect x="494" y="73" width="3" height="21" fill="#00BFFF"/>
<rect x="499" y="70" width="1" height="21" fill="#FF0000"/>
<rect x="498" y="71" width="3" height="18" fill="#FF0000"/>
<rect x="503" y="76" width="1" height="17" fill="#00BFFF"/>
<rect x="502" y="80" width="3" height="8" fill="#00BFFF"/>
<rect x="507" y="75" width="1" height="13" fill="#00BFFF"/>
<rect x="506" y="80" width="3" height="3" fill="#00BFFF"/>
<rect x="511" y="65" width="1" height="24" fill="#00BFFF"/>
<rect x="510" y="70" width="3" height="9" fill="#00BFFF"/>
<rect x="515" y="46" width="1" height="45" fill="#FF0000"/>
<rect x="514" y="71" width="3" height="5" fill="#FF0000"/>
<rect x="519" y="61" width="1" height="30" fill="#FF0000"/>
<rect x="518" y="73" width="3" height="8" fill="#FF0000"/>
<rect x="523" y="76" width="1" height="83" fill="#FF0000"/>
<rect x="522" y="82" width="3" height="60" fill="#FF0000"/>
<rect x="527" y="122" width="1" height="35" fill="#FF0000"/>
<rect x="526" y="143" width="3" height="4" fill="#FF0000"/>
<rect x="531" y="122" width="1" height="42" fill="#FF0000"/>
<rect x="530" y="144" width="3" height="10" fill="#FF0000"/>
<rect x="535" y="127" width="1" height="37" fill="#00BFFF"/>
<rect x="534" y="136" width="3" height="19" fill="#00BFFF"/>
<rect x="539" y="122" width="1" height="42" fill="#FF0000"/>
<rect x="538" y="137" width="3" height="17" fill="#FF0000"/>
<rect x="543" y="134" width="1" height="54" fill="#FF0000"/>
<rect x="542" y="151" width="3" height="21" fill="#FF0000"/>
<rect x="547" y="131" width="1" height="89" fill="#FF0000"/>
<rect x="546" y="170" width="3" height="25" fill="#FF0000"/>
<rect x="551" y="190" width="1" height="30" fill="#FF0000"/>
<rect x="550" y="193" width="3" height="13" fill="#FF0000"/>
<rect x="555" y="192" width="1" height="60" fill="#FF0000"/>
<rect x="554" y="204" width="3" height="41" fill="#FF0000"/>
<rect x="559" y="219" width="1" height="28" fill="#FF0000"/>
<rect x="558" y="243" width="3" height="3" fill="#FF0000"/>
<rect x="563" y="214" width="1" height="30" fill="#00BFFF"/>
<rect x="562" y="221" width="3" height="23" fill="#00BFFF"/>
<rect x="567" y="217" width="1" height="27" fill="#FF0000"/>
<rect x="566" y="222" width="3" height="18" fill="#FF0000"/>
<rect x="571" y="232" width="1" height="10" fill="#00BFFF"/>
<rect x="570" y="238" width="3" height="4" fill="#00BFFF"/>
<rect x="575" y="226" width="1" height="16" fill="#00BFFF"/>
<rect x="574" y="231" width="3" height="6" fill="#00BFFF"/>
<rect x="579" y="221" width="1" height="16" fill="#00BFFF"/>
<rect x="578" y="222" width="3" height="11" fill="#00BFFF"/>
<rect x="583" y="207" width="1" height="20" fill="#00BFFF"/>
<rect x="582" y="219" width="3" height="3" fill="#00BFFF"/>
<rect x="587" y="217" width="1" height="37" fill="#FF0000"/>
<rect x="586" y="221" width="3" height="23" fill="#FF0000"/>
<rect x="591" y="202" width="1" height="40" fill="#00BFFF"/>
<rect x="590" y="231" width="3" height="11" fill="#00BFFF"/>
<rect x="595" y="214" width="1" height="18" fill="#00BFFF"/>
<rect x="594" y="215" width="3" height="15" fill="#00BFFF"/>
<rect x="599" y="202" width="1" height="20" fill="#FF0000"/>
<rect x="598" y="214" width="3" height="4" fill="#FF0000"/>
<rect x="603" y="193" width="1" height="27" fill="#00BFFF"/>
<rect x="602" y="207" width="3" height="9" fill="#00BFFF"/>
<rect x="607" y="199" width="1" height="28" fill="#FF0000"/>
<rect x="606" y="205" width="3" height="17" fill="#FF0000"/>
<rect x="611" y="221" width="1" height="33" fill="#FF0000"/>
<rect x="610" y="222" width="3" height="15" fill="#FF0000"/>
<rect x="615" y="229" width="1" height="21" fill="#FF0000"/>
<rect x="614" y="234" width="3" height="13" fill="#FF0000"/>
<rect x="619" y="217" width="1" height="32" fill="#00BFFF"/>
<rect x="618" y="231" width="3" height="18" fill="#00BFFF"/>
<rect x="623" y="229" width="1" height="57" fill="#FF0000"/>
<rect x="622" y="229" width="3" height="35" fill="#FF0000"/>
<rect x="627" y="261" width="1" height="45" fill="#FF0000"/>
<rect x="626" y="261" width="3" height="23" fill="#FF0000"/>
<rect x="631" y="265" width="1" height="41" fill="#00BFFF"/>
<rect x="630" y="275" width="3" height="8" fill="#00BFFF"/>
<rect x="635" y="265" width="1" height="31" fill="#FF0000"/>
<rect x="634" y="277" width="3" height="19" fill="#FF0000"/>
<rect x="639" y="296" width="1" height="48" fill="#FF0000"/>
<rect x="638" y="297" width="3" height="13" fill="#FF0000"/>
<rect x="643" y="263" width="1" height="55" fill="#00BFFF"/>
<rect x="642" y="278" width="3" height="30" fill="#00BFFF"/>
<rect x="647" y="275" width="1" height="52" fill="#FF0000"/>
<rect x="646" y="277" width="3" height="29" fill="#FF0000"/>
<rect x="651" y="304" width="1" height="90" fill="#FF0000"/>
<rect x="650" y="307" width="3" height="25" fill="#FF0000"/>
<rect x="655" y="329" width="1" height="33" fill="#FF0000"/>
<rect x="654" y="332" width="3" height="24" fill="#FF0000"/>
<rect x="659" y="319" width="1" height="38" fill="#00BFFF"/>
<rect x="658" y="321" width="3" height="33" fill="#00BFFF"/>
<rect x="663" y="310" width="1" height="35" fill="#FF0000"/>
<rect x="662" y="322" width="3" height="8" fill="#FF0000"/>
<rect x="667" y="319" width="1" height="21" fill="#00BFFF"/>
<rect x="666" y="321" width="3" height="12" fill="#00BFFF"/>
<rect x="671" y="314" width="1" height="19" fill="#FF0000"/>
<rect x="670" y="319" width="3" height="8" fill="#FF0000"/>
<rect x="675" y="324" width="1" height="4" fill="#FF0000"/>
<rect x="674" y="324" width="3" height="3" fill="#FF0000"/>
<rect x="2" y="442" width="3" height="1" fill="#696969"/>
<rect x="6" y="442" width="3" height="1" fill="#696969"/>
<rect x="10" y="442" width="3" height="1" fill="#696969"/>
<rect x="14" y="442" width="3" height="1" fill="#696969"/>
<rect x="18" y="442" width="3" height="1" fill="#696969"/>
<rect x="22" y="441" width="3" height="2" fill="#696969"/>
<rect x="26" y="440" width="3" height="3" fill="#696969"/>
<rect x="30" y="439" width="3" height="4" fill="#696969"/>
<rect x="34" y="438" width="3" height="5" fill="#696969"/>
<rect x="38" y="437" width="3" height="6" fill="#696969"/>
<rect x="42" y="438" width="3" height="5" fill="#696969"/>
<rect x="46" y="437" width="3" height="6" fill="#696969"/>
<rect x="50" y="436" width="3" height="7" fill="#696969"/>
<rect x="54" y="436" width="3" height="7" fill="#696969"/>
<rect x="58" y="436" width="3" height="7" fill="#696969"/>
<rect x="62" y="434" width="3" height="9" fill="#696969"/>
<rect x="66" y="430" width="3" height="13" fill="#696969"/>
<rect x="70" y="431" width="3" height="12" fill="#696969"/>
<rect x="74" y="431" width="3" height="12" fill="#696969"/>
<rect x="78" y="431" width="3" height="12" fill="#696969"/>
<rect x="82" y="429" width="3" height="14" fill="#696969"/>
<rect x="86" y="430" width="3" height="13" fill="#696969"/>
<rect x="90" y="430" width="3" height="13" fill="#696969"/>
<rect x="94" y="430" width="3" height="13" fill="#696969"/>
<rect x="98" y="430" width="3" height="13" fill="#696969"/>
<rect x="102" y="430" width="3" height="13" fill="#696969"/>
<rect x="106" y="429" width="3" height="14" fill="#696969"/>
<rect x="110" y="428" width="3" height="15" fill="#696969"/>
<rect x="114" y="427" width="3" height="16" fill="#696969"/>
<rect x="118" y="426" width="3" height="17" fill="#696969"/>
<rect x="122" y="426" width="3" height="17" fill="#696969"/>
<rect x="126" y="425" width="3" height="18" fill="#696969"/>
<rect x="130" y="424" width="3" height="19" fill="#696969"/>
<rect x="134" y="423" width="3" height="20" fill="#696969"/>
<rect x="138" y="422" width="3" height="21" fill="#696969"/>
<rect x="142" y="421" width="3" height="22" fill="#696969"/>
<rect x="146" y="418" width="3" height="25" fill="#696969"/>
<rect x="150" y="417" width="3" height="26" fill="#696969"/>
<rect x="154" y="426" width="3" height="17" fill="#696969"/>
<rect x="158" y="429" width="3" height="14" fill="#696969"/>
<rect x="162" y="428" width="3" height="15" fill="#696969"/>
<rect x="166" y="422" width="3" height="21" fill="#696969"/>
<rect x="170" y="421" width="3" height="22" fill="#696969"/>
<rect x="174" y="422" width="3" height="21" fill="#696969"/>
<rect x="178" y="422" width="3" height="21" fill="#696969"/>
<rect x="182" y="421" width="3" height="22" fill="#696969"/>
<rect x="186" y="419" width="3" height="24" fill="#696969"/>
<rect x="190" y="423" width="3" height="20" fill="#696969"/>
<rect x="194" y="427" width="3" height="16" fill="#696969"/>
<rect x="198" y="431" width="3" height="12" fill="#696969"/>
<rect x="202" y="432" width="3" height="11" fill="#696969"/>
<rect x="206" y="433" width="3" height="10" fill="#696969"/>
<rect x="210" y="435" width="3" height="8" fill="#696969"/>
<rect x="214" y="436" width="3" height="7" fill="#696969"/>
<rect x="218" y="437" width="3" height="6" fill="#696969"/>
<rect x="222" y="437" width="3" height="6" fill="#696969"/>
<rect x="226" y="436" width="3" height="7" fill="#696969"/>
<rect x="230" y="435" width="3" height="8" fill="#696969"/>
<rect x="234" y="437" width="3" height="6" fill="#696969"/>
<rect x="238" y="438" width="3" height="5" fill="#696969"/>
<rect x="242" y="438" width="3" height="5" fill="#696969"/>
<rect x="246" y="441" width="3" height="2" fill="#696969"/>
<rect x="250" y="443" width="3" height="5" fill="#696969"/>
<rect x="254" y="443" width="3" height="15" fill="#696969"/>
<rect x="258" y="443" width="3" height="24" fill="#696969"/>
<rect x="262" y="443" width="3" height="27" fill="#696969"/>
<rect x="266" y="443" width="3" height="30" fill="#696969"/>
<rect x="270" y="443" width="3" height="31" fill="#696969"/>
<rect x="274" y="443" width="3" height="33" fill="#696969"/>
<rect x="278" y="443" width="3" height="33" fill="#696969"/>
<rect x="282" y="443" width="3" height="34" fill="#696969"/>
<rect x="286" y="443" width="3" height="33" fill="#696969"/>
<rect x="290" y="443" width="3" height="33" fill="#696969"/>
<rect x="294" y="443" width="3" height="30" fill="#696969"/>
<rect x="298" y="443" width="3" height="29" fill="#696969"/>
<rect x="302" y="443" width="3" height="26" fill="#696969"/>
<rect x="306" y="443" width="3" height="22" fill="#696969"/>
<rect x="310" y="443" width="3" height="21" fill="#696969"/>
<rect x="314" y="443" width="3" height="19" fill="#696969"/>
<rect x="318" y="443" width="3" height="17" fill="#696969"/>
<rect x="322" y="443" width="3" height="14" fill="#696969"/>
<rect x="326" y="443" width="3" height="9" fill="#696969"/>
<rect x="330" y="443" width="3" height="7" fill="#696969"/>
<rect x="334" y="443" width="3" height="2" fill="#696969"/>
<rect x="338" y="442" width="3" height="1" fill="#696969"/>
<rect x="342" y="443" width="3" height="2" fill="#696969"/>
<rect x="346" y="441" width="3" height="2" fill="#696969"/>
<rect x="350" y="440" width="3" height="3" fill="#696969"/>
<rect x="354" y="437" width="3" height="6" fill="#696969"/>
<rect x="358" y="435" width="3" height="8" fill="#696969"/>
<rect x="362" y="430" width="3" height="13" fill="#696969"/>
<rect x="366" y="429" width="3" height="14" fill="#696969"/>
<rect x="370" y="428" width="3" height="15" fill="#696969"/>
<rect x="374" y="425" width="3" height="18" fill="#696969"/>
<rect x="378" y="424" width="3" height="19" fill="#696969"/>
<rect x="382" y="426" width="3" height="17" fill="#696969"/>
<rect x="386" y="428" width="3" height="15" fill="#696969"/>
<rect x="390" y="429" width="3" height="14" fill="#696969"/>
<rect x="394" y="431" width="3" height="12" fill="#696969"/>
<rect x="398" y="435" width="3" height="8" fill="#696969"/>
<rect x="402" y="437" width="3" height="6" fill="#696969"/>
<rect x="406" y="439" width="3" height="4" fill="#696969"/>
<rect x="410" y="440" width="3" height="3" fill="#696969"/>
<rect x="414" y="441" width="3" height="2" fill="#696969"/>
<rect x="418" y="443" width="3" height="1" fill="#696969"/>
<rect x="422" y="441" width="3" height="2" fill="#696969"/>
<rect x="426" y="439" width="3" height="4" fill="#696969"/>
<rect x="430" y="438" width="3" height="5" fill="#696969"/>
<rect x="434" y="437" width="3" height="6" fill="#696969"/>
<rect x="438" y="432" width="3" height="11" fill="#696969"/>
<rect x="442" y="430" width="3" height="13" fill="#696969"/>
<rect x="446" y="427" width="3" height="16" fill="#696969"/>
<rect x="450" y="425" width="3" height="18" fill="#696969"/>
<rect x="454" y="427" width="3" height="16" fill="#696969"/>
<rect x="458" y="429" width="3" height="14" fill="#696969"/>
<rect x="462" y="430" width="3" height="13" fill="#696969"/>
<rect x="466" y="430" width="3" height="13" fill="#696969"/>
<rect x="470" y="428" width="3" height="15" fill="#696969"/>
<rect x="474" y="428" width="3" height="15" fill="#696969"/>
<rect x="478" y="427" width="3" height="16" fill="#696969"/>
<rect x="482" y="426" width="3" height="17" fill="#696969"/>
<rect x="486" y="424" width="3" height="19" fill="#696969"/>
<rect x="490" y="424" width="3" height="19" fill="#696969"/>
<rect x="494" y="423" width="3" height="20" fill="#696969"/>
<rect x="498" y="424" width="3" height="19" fill="#696969"/>
<rect x="502" y="423" width="3" height="20" fill="#696969"/>
<rect x="506" y="424" width="3" height="19" fill="#696969"/>
<rect x="510" y="423" width="3" height="20" fill="#696969"/>
<rect x="514" y="424" width="3" height="19" fill="#696969"/>
<rect x="518" y="424" width="3" height="19" fill="#696969"/>
<rect x="522" y="429" width="3" height="14" fill="#696969"/>
<rect x="526" y="434" width="3" height="9" fill="#696969"/>
<rect x="530" y="438" width="3" height="5" fill="#696969"/>
<rect x="534" y="440" width="3" height="3" fill="#696969"/>
<rect x="538" y="443" width="3" height="1" fill="#696969"/>
<rect x="542" y="443" width="3" height="4" fill="#696969"/>
<rect x="546" y="443" width="3" height="8" fill="#696969"/>
<rect x="550" y="443" width="3" height="12" fill="#696969"/>
<rect x="554" y="443" width="3" height="18" fill="#696969"/>
<rect x="558" y="443" width="3" height="22" fill="#696969"/>
<rect x="562" y="443" width="3" height="23" fill="#696969"/>
<rect x="566" y="443" width="3" height="26" fill="#696969"/>
<rect x="570" y="443" width="3" height="27" fill="#696969"/>
<rect x="574" y="443" width="3" height="27" fill="#696969"/>
<rect x="578" y="443" width="3" height="26" fill="#696969"/>
<rect x="582" y="443" width="3" height="25" fill="#696969"/>
<rect x="586" y="443" width="3" height="26" fill="#696969"/>
<rect x="590" y="443" width="3" height="24" fill="#696969"/>
<rect x="594" y="443" width="3" height="23" fill="#696969"/>
<rect x="598" y="443" width="3" height="22" fill="#696969"/>
<rect x="602" y="443" width="3" height="20" fill="#696969"/>
<rect x="606" y="443" width="3" height="19" fill="#696969"/>
<rect x="610" y="443" width="3" height="19" fill="#696969"/>
<rect x="614" y="443" width="3" height="19" fill="#696969"/>
<rect x="618" y="443" width="3" height="18" fill="#696969"/>
<rect x="622" y="443" width="3" height="20" fill="#696969"/>
<rect x="626" y="443" width="3" height="22" fill="#696969"/>
<rect x="630" y="443" width="3" height="23" fill="#696969"/>
<rect x="634" y="443" width="3" height="25" fill="#696969"/>
<rect x="638" y="443" width="3" height="27" fill="#696969"/>
<rect x="642" y="443" width="3" height="26" fill="#696969"/>
<rect x="646" y="443" width="3" height="27" fill="#696969"/>
<rect x="650" y="443" width="3" height="29" fill="#696969"/>
<rect x="654" y="443" width="3" height="32" fill="#696969"/>
<rect x="658" y="443" width="3" height="32" fill="#696969"/>
<rect x="662" y="443" width="3" height="32" fill="#696969"/>
<rect x="666" y="443" width="3" height="31" fill="#696969"/>
<rect x="670" y="443" width="3" height="30" fill="#696969"/>
<rect x="674" y="443" width="3" height="29" fill="#696969"/>
<rect x="3" y="440" width="1" height="1" fill="#FF0000"/>
<rect x="4" y="440" width="1" height="1" fill="#FF0000"/>
<rect x="5" y="440" width="1" height="1" fill="#FF0000"/>
<rect x="9" y="441" width="1" height="1" fill="#FF0000"/>
<rect x="10" y="441" width="1" height="1" fill="#FF0000"/>
<rect x="11" y="441" width="1" height="1" fill="#FF0000"/>
<rect x="15" y="442" width="1" height="1" fill="#FF0000"/>
<rect x="16" y="442" width="1" height="1" fill="#FF0000"/>
<rect x="17" y="442" width="1" height="1" fill="#FF0000"/>
<rect x="21" y="442" width="1" height="1" fill="#FF0000"/>
<rect x="22" y="441" width="1" height="1" fill="#FF0000"/>
<rect x="23" y="441" width="1" height="1" fill="#FF0000"/>
<rect x="27" y="441" width="1" height="1" fill="#FF0000"/>
<rect x="28" y="441" width="1" height="1" fill="#FF0000"/>
<rect x="29" y="441" width="1" height="1" fill="#FF0000"/>
<rect x="33" y="441" width="1" height="1" fill="#FF0000"/>
<rect x="34" y="441" width="1" height="1" fill="#FF0000"/>
<rect x="35" y="441" width="1" height="1" fill="#FF0000"/>
<rect x="39" y="440" width="1" height="1" fill="#FF0000"/>
<rect x="40" y="440" width="1" height="1" fill="#FF0000"/>
<rect x="41" y="440" width="1" height="1" fill="#FF0000"/>
<rect x="45" y="439" width="1" height="1" fill="#FF0000"/>
<rect x="46" y="439" width="1" height="1" fill="#FF0000"/>
<rect x="47" y="439" width="1" height="1" fill="#FF0000"/>
<rect x="51" y="438" width="1" height="1" fill="#FF0000"/>
<rect x="52" y="438" width="1" height="1" fill="#FF0000"/>
<rect x="53" y="438" width="1" height="1" fill="#FF0000"/>
<rect x="57" y="437" width="1" height="1" fill="#FF0000"/>
<rect x="58" y="437" width="1" height="1" fill="#FF0000"/>
<rect x="59" y="437" width="1" height="1" fill="#FF0000"/>
<rect x="63" y="436" width="1" height="1" fill="#FF0000"/>
<rect x="64" y="436" width="1" height="1" fill="#FF0000"/>
<rect x="65" y="436" width="1" height="1" fill="#FF0000"/>
<rect x="69" y="435" width="1" height="1" fill="#FF0000"/>
<rect x="70" y="435" width="1" height="1" fill="#FF0000"/>
<rect x="71" y="435" width="1" height="1" fill="#FF0000"/>
<rect x="75" y="434" width="1" height="1" fill="#FF0000"/>
<rect x="76" y="434" width="1" height="1" fill="#FF0000"/>
<rect x="77" y="434" width="1" height="1" fill="#FF0000"/>
<rect x="81" y="433" width="1" height="1" fill="#FF0000"/>
<rect x="82" y="433" width="1" height="1" fill="#FF0000"/>
<rect x="83" y="433" width="1" height="1" fill="#FF0000"/>
<rect x="87" y="432" width="1" height="1" fill="#FF0000"/>
<rect x="88" y="432" width="1" height="1" fill="#FF0000"/>
<rect x="89" y="432" width="1" height="1" fill="#FF0000"/>
<rect x="93" y="431" width="1" height="1" fill="#FF0000"/>
<rect x="94" y="431" width="1" height="1" fill="#FF0000"/>
<rect x="95" y="431" width="1" height="1" fill="#FF0000"/>
<rect x="99" y="430" width="1" height="1" fill="#FF0000"/>
<rect x="100" y="430" width="1" height="1" fill="#FF0000"/>
<rect x="101" y="430" width="1" height="1" fill="#FF0000"/>
<rect x="105" y="430" width="1" height="1" fill="#FF0000"/>
<rect x="106" y="430" width="1" height="1" fill="#FF0000"/>
<rect x="107" y="429" width="1" height="1" fill="#FF0000"/>
<rect x="111" y="429" width="1" height="1" fill="#FF0000"/>
<rect x="112" y="429" width="1" height="1" fill="#FF0000"/>
<rect x="113" y="429" width="1" height="1" fill="#FF0000"/>
<rect x="117" y="428" width="1" height="1" fill="#FF0000"/>
<rect x="118" y="428" width="1" height="1" fill="#FF0000"/>
<rect x="119" y="428" width="1" height="1" fill="#FF0000"/>
<rect x="123" y="428" width="1" height="1" fill="#FF0000"/>
<rect x="124" y="428" width="1" height="1" fill="#FF0000"/>
<rect x="125" y="427" width="1" height="1" fill="#FF0000"/>
<rect x="129" y="427" width="1" height="1" fill="#FF0000"/>
<rect x="130" y="427" width="1" height="1" fill="#FF0000"/>
<rect x="131" y="426" width="1" height="1" fill="#FF0000"/>
<rect x="135" y="426" width="1" height="1" fill="#FF0000"/>
<rect x="136" y="426" width="1" height="1" fill="#FF0000"/>
<rect x="137" y="425" width="1" height="1" fill="#FF0000"/>
<rect x="141" y="425" width="1" height="1" fill="#FF0000"/>
<rect x="142" y="425" width="1" height="1" fill="#FF0000"/>
<rect x="143" y="424" width="1" height="1" fill="#FF0000"/>
<rect x="147" y="424" width="1" height="1" fill="#FF0000"/>
<rect x="148" y="424" width="1" height="1" fill="#FF0000"/>
<rect x="149" y="423" width="1" height="1" fill="#FF0000"/>
<rect x="153" y="423" width="1" height="1" fill="#FF0000"/>
<rect x="154" y="423" width="1" height="1" fill="#FF0000"/>
<rect x="155" y="423" width="1" height="1" fill="#FF0000"/>
<rect x="159" y="423" width="1" height="1" fill="#FF0000"/>
<rect x="160" y="423" width="1" height="1" fill="#FF0000"/>
<rect x="161" y="423" width="1" height="1" fill="#FF0000"/>
<rect x="165" y="423" width="1" height="1" fill="#FF0000"/>
<rect x="166" y="423" width="1" height="1" fill="#FF0000"/>
<rect x="167" y="423" width="1" height="1" fill="#FF0000"/>
<rect x="171" y="423" width="1" height="1" fill="#FF0000"/>
<rect x="172" y="423" width="1" height="1" fill="#FF0000"/>
<rect x="173" y="423" width="1" height="1" fill="#FF0000"/>
<rect x="177" y="423" width="1" height="1" fill="#FF0000"/>
<rect x="178" y="423" width="1" height="1" fill="#FF0000"/>
<rect x="179" y="423" width="1" height="1" fill="#FF0000"/>
<rect x="183" y="423" width="1" height="1" fill="#FF0000"/>
<rect x="184" y="423" width="1" height="1" fill="#FF0000"/>
<rect x="185" y="423" width="1" height="1" fill="#FF0000"/>
<rect x="189" y="423" width="1" height="1" fill="#FF0000"/>
<rect x="190" y="423" width="1" height="1" fill="#FF0000"/>
<rect x="191" y="423" width="1" height="1" fill="#FF0000"/>
<rect x="195" y="423" width="1" height="1" fill="#FF0000"/>
<rect x="196" y="423" width="1" height="1" fill="#FF0000"/>
<rect x="197" y="423" width="1" height="1" fill="#FF0000"/>
<rect x="201" y="424" width="1" height="1" fill="#FF0000"/>
<rect x="202" y="424" width="1" height="1" fill="#FF0000"/>
<rect x="203" y="424" width="1" height="1" fill="#FF0000"/>
<rect x="207" y="425" width="1" height="1" fill="#FF0000"/>
<rect x="208" y="426" width="1" height="1" fill="#FF0000"/>
<rect x="209" y="426" width="1" height="1" fill="#FF0000"/>
<rect x="213" y="427" width="1" height="1" fill="#FF0000"/>
<rect x="214" y="428" width="1" height="1" fill="#FF0000"/>
<rect x="215" y="428" width="1" height="1" fill="#FF0000"/>
<rect x="219" y="430" width="1" height="1" fill="#FF0000"/>
<rect x="220" y="430" width="1" height="1" fill="#FF0000"/>
<rect x="221" y="431" width="1" height="1" fill="#FF0000"/>
<rect x="225" y="433" width="1" height="1" fill="#FF0000"/>
<rect x="226" y="433" width="1" height="1" fill="#FF0000"/>
<rect x="227" y="434" width="1" height="1" fill="#FF0000"/>
<rect x="231" y="435" width="1" height="1" fill="#FF0000"/>
<rect x="232" y="435" width="1" height="1" fill="#FF0000"/>
<rect x="233" y="435" width="1" height="1" fill="#FF0000"/>
<rect x="237" y="437" width="1" height="1" fill="#FF0000"/>
<rect x="238" y="437" width="1" height="1" fill="#FF0000"/>
<rect x="239" y="437" width="1" height="1" fill="#FF0000"/>
<rect x="243" y="437" width="1" height="1" fill="#FF0000"/>
<rect x="244" y="437" width="1" height="1" fill="#FF0000"/>
<rect x="245" y="437" width="1" height="1" fill="#FF0000"/>
<rect x="249" y="437" width="1" height="1" fill="#FF0000"/>
<rect x="250" y="438" width="1" height="1" fill="#FF0000"/>
<rect x="251" y="438" width="1" height="1" fill="#FF0000"/>
<rect x="255" y="441" width="1" height="1" fill="#FF0000"/>
<rect x="256" y="442" width="1" height="1" fill="#FF0000"/>
<rect x="257" y="443" width="1" height="1" fill="#FF0000"/>
<rect x="261" y="446" width="1" height="1" fill="#FF0000"/>
<rect x="262" y="447" width="1" height="1" fill="#FF0000"/>
<rect x="263" y="448" width="1" height="1" fill="#FF0000"/>
<rect x="267" y="452" width="1" height="1" fill="#FF0000"/>
<rect x="268" y="453" width="1" height="1" fill="#FF0000"/>
<rect x="269" y="454" width="1" height="1" fill="#FF0000"/>
<rect x="273" y="458" width="1" height="1" fill="#FF0000"/>
<rect x="274" y="459" width="1" height="1" fill="#FF0000"/>
<rect x="275" y="460" width="1" height="1" fill="#FF0000"/>
<rect x="279" y="464" width="1" height="1" fill="#FF0000"/>
<rect x="280" y="465" width="1" height="1" fill="#FF0000"/>
<rect x="281" y="466" width="1" height="1" fill="#FF0000"/>
<rect x="285" y="469" width="1" height="1" fill="#FF0000"/>
<rect x="286" y="470" width="1" height="1" fill="#FF0000"/>
<rect x="287" y="470" width="1" height="1" fill="#FF0000"/>
<rect x="291" y="473" width="1" height="1" fill="#FF0000"/>
<rect x="292" y="473" width="1" height="1" fill="#FF0000"/>
<rect x="293" y="473" width="1" height="1" fill="#FF0000"/>
<rect x="297" y="474" width="1" height="1" fill="#FF0000"/>
<rect x="298" y="474" width="1" height="1" fill="#FF0000"/>
<rect x="299" y="474" width="1" height="1" fill="#FF0000"/>
<rect x="303" y="473" width="1" height="1" fill="#FF0000"/>
<rect x="304" y="473" width="1" height="1" fill="#FF0000"/>
<rect x="305" y="472" width="1" height="1" fill="#FF0000"/>
<rect x="309" y="471" width="1" height="1" fill="#FF0000"/>
<rect x="310" y="470" width="1" height="1" fill="#FF0000"/>
<rect x="311" y="470" width="1" height="1" fill="#FF0000"/>
<rect x="315" y="469" width="1" height="1" fill="#FF0000"/>
<rect x="316" y="469" width="1" height="1" fill="#FF0000"/>
<rect x="317" y="468" width="1" height="1" fill="#FF0000"/>
<rect x="321" y="467" width="1" height="1" fill="#FF0000"/>
<rect x="322" y="466" width="1" height="1" fill="#FF0000"/>
<rect x="323" y="466" width="1" height="1" fill="#FF0000"/>
<rect x="327" y="463" width="1" height="1" fill="#FF0000"/>
<rect x="328" y="462" width="1" height="1" fill="#FF0000"/>
<rect x="329" y="461" width="1" height="1" fill="#FF0000"/>
<rect x="333" y="458" width="1" height="1" fill="#FF0000"/>
<rect x="334" y="458" width="1" height="1" fill="#FF0000"/>
<rect x="335" y="457" width="1" height="1" fill="#FF0000"/>
<rect x="339" y="454" width="1" height="1" fill="#FF0000"/>
<rect x="340" y="453" width="1" height="1" fill="#FF0000"/>
<rect x="341" y="453" width="1" height="1" fill="#FF0000"/>
<rect x="345" y="451" width="1" height="1" fill="#FF0000"/>
<rect x="346" y="450" width="1" height="1" fill="#FF0000"/>
<rect x="347" y="449" width="1" height="1" fill="#FF0000"/>
<rect x="351" y="447" width="1" height="1" fill="#FF0000"/>
<rect x="352" y="446" width="1" height="1" fill="#FF0000"/>
<rect x="353" y="446" width="1" height="1" fill="#FF0000"/>
<rect x="357" y="443" width="1" height="1" fill="#FF0000"/>
<rect x="358" y="443" width="1" height="1" fill="#FF0000"/>
<rect x="359" y="442" width="1" height="1" fill="#FF0000"/>
<rect x="363" y="440" width="1" height="1" fill="#FF0000"/>
<rect x="364" y="439" width="1" height="1" fill="#FF0000"/>
<rect x="365" y="439" width="1" height="1" fill="#FF0000"/>
<rect x="369" y="437" width="1" height="1" fill="#FF0000"/>
<rect x="370" y="436" width="1" height="1" fill="#FF0000"/>
<rect x="371" y="436" width="1" height="1" fill="#FF0000"/>
<rect x="375" y="434" width="1" height="1" fill="#FF0000"/>
<rect x="376" y="433" width="1" height="1" fill="#FF0000"/>
<rect x="377" y="433" width="1" height="1" fill="#FF0000"/>
<rect x="381" y="431" width="1" height="1" fill="#FF0000"/>
<rect x="382" y="431" width="1" height="1" fill="#FF0000"/>
<rect x="383" y="430" width="1" height="1" fill="#FF0000"/>
<rect x="387" y="429" width="1" height="1" fill="#FF0000"/>
<rect x="388" y="429" width="1" height="1" fill="#FF0000"/>
<rect x="389" y="428" width="1" height="1" fill="#FF0000"/>
<rect x="393" y="428" width="1" height="1" fill="#FF0000"/>
<rect x="394" y="428" width="1" height="1" fill="#FF0000"/>
<rect x="395" y="428" width="1" height="1" fill="#FF0000"/>
<rect x="399" y="429" width="1" height="1" fill="#FF0000"/>
<rect x="400" y="429" width="1" height="1" fill="#FF0000"/>
<rect x="401" y="429" width="1" height="1" fill="#FF0000"/>
<rect x="405" y="430" width="1" height="1" fill="#FF0000"/>
<rect x="406" y="430" width="1" height="1" fill="#FF0000"/>
<rect x="407" y="430" width="1" height="1" fill="#FF0000"/>
<rect x="411" y="432" width="1" height="1" fill="#FF0000"/>
<rect x="412" y="432" width="1" height="1" fill="#FF0000"/>
<rect x="413" y="433" width="1" height="1" fill="#FF0000"/>
<rect x="417" y="435" width="1" height="1" fill="#FF0000"/>
<rect x="418" y="435" width="1" height="1" fill="#FF0000"/>
<rect x="419" y="436" width="1" height="1" fill="#FF0000"/>
<rect x="423" y="437" width="1" height="1" fill="#FF0000"/>
<rect x="424" y="438" width="1" height="1" fill="#FF0000"/>
<rect x="425" y="438" width="1" height="1" fill="#FF0000"/>
<rect x="429" y="439" width="1" height="1" fill="#FF0000"/>
<rect x="430" y="440" width="1" height="1" fill="#FF0000"/>
<rect x="431" y="440" width="1" height="1" fill="#FF0000"/>
<rect x="435" y="440" width="1" height="1" fill="#FF0000"/>
<rect x="436" y="440" width="1" height="1" fill="#FF0000"/>
<rect x="437" y="439" width="1" height="1" fill="#FF0000"/>
<rect x="441" y="438" width="1" height="1" fill="#FF0000"/>
<rect x="442" y="438" width="1" height="1" fill="#FF0000"/>
<rect x="443" y="438" width="1" height="1" fill="#FF0000"/>
<rect x="447" y="436" width="1" height="1" fill="#FF0000"/>
<rect x="448" y="435" width="1" height="1" fill="#FF0000"/>
<rect x="449" y="435" width="1" height="1" fill="#FF0000"/>
<rect x="453" y="433" width="1" height="1" fill="#FF0000"/>
<rect x="454" y="433" width="1" height="1" fill="#FF0000"/>
<rect x="455" y="433" width="1" height="1" fill="#FF0000"/>
<rect x="459" y="431" width="1" height="1" fill="#FF0000"/>
<rect x="460" y="431" width="1" height="1" fill="#FF0000"/>
<rect x="461" y="431" width="1" height="1" fill="#FF0000"/>
<rect x="465" y="430" width="1" height="1" fill="#FF0000"/>
<rect x="466" y="430" width="1" height="1" fill="#FF0000"/>
<rect x="467" y="430" width="1" height="1" fill="#FF0000"/>
<rect x="471" y="429" width="1" height="1" fill="#FF0000"/>
<rect x="472" y="429" width="1" height="1" fill="#FF0000"/>
<rect x="473" y="429" width="1" height="1" fill="#FF0000"/>
<rect x="477" y="428" width="1" height="1" fill="#FF0000"/>
<rect x="478" y="428" width="1" height="1" fill="#FF0000"/>
<rect x="479" y="428" width="1" height="1" fill="#FF0000"/>
<rect x="483" y="428" width="1" height="1" fill="#FF0000"/>
<rect x="484" y="428" width="1" height="1" fill="#FF0000"/>
<rect x="485" y="427" width="1" height="1" fill="#FF0000"/>
<rect x="489" y="427" width="1" height="1" fill="#FF0000"/>
<rect x="490" y="427" width="1" height="1" fill="#FF0000"/>
<rect x="491" y="427" width="1" height="1" fill="#FF0000"/>
<rect x="495" y="426" width="1" height="1" fill="#FF0000"/>
<rect x="496" y="426" width="1" height="1" fill="#FF0000"/>
<rect x="497" y="426" width="1" height="1" fill="#FF0000"/>
<rect x="501" y="425" width="1" height="1" fill="#FF0000"/>
<rect x="502" y="425" width="1" height="1" fill="#FF0000"/>
<rect x="503" y="425" width="1" height="1" fill="#FF0000"/>
<rect x="507" y="425" width="1" height="1" fill="#FF0000"/>
<rect x="508" y="424" width="1" height="1" fill="#FF0000"/>
<rect x="509" y="424" width="1" height="1" fill="#FF0000"/>
<rect x="513" y="424" width="1" height="1" fill="#FF0000"/>
<rect x="514" y="424" width="1" height="1" fill="#FF0000"/>
<rect x="515" y="424" width="1" height="1" fill="#FF0000"/>
<rect x="519" y="424" width="1" height="1" fill="#FF0000"/>
<rect x="520" y="424" width="1" height="1" fill="#FF0000"/>
<rect x="521" y="424" width="1" height="1" fill="#FF0000"/>
<rect x="525" y="425" width="1" height="1" fill="#FF0000"/>
<rect x="526" y="425" width="1" height="1" fill="#FF0000"/>
<rect x="527" y="425" width="1" height="1" fill="#FF0000"/>
<rect x="531" y="427" width="1" height="1" fill="#FF0000"/>
<rect x="532" y="427" width="1" height="1" fill="#FF0000"/>
<rect x="533" y="427" width="1" height="1" fill="#FF0000"/>
<rect x="537" y="430" width="1" height="1" fill="#FF0000"/>
<rect x="538" y="430" width="1" height="1" fill="#FF0000"/>
<rect x="539" y="431" width="1" height="1" fill="#FF0000"/>
<rect x="543" y="433" width="1" height="1" fill="#FF0000"/>
<rect x="544" y="434" width="1" height="1" fill="#FF0000"/>
<rect x="545" y="435" width="1" height="1" fill="#FF0000"/>
<rect x="549" y="438" width="1" height="1" fill="#FF0000"/>
<rect x="550" y="439" width="1" height="1" fill="#FF0000"/>
<rect x="551" y="440" width="1" height="1" fill="#FF0000"/>
<rect x="555" y="444" width="1" height="1" fill="#FF0000"/>
<rect x="556" y="445" width="1" height="1" fill="#FF0000"/>
<rect x="557" y="446" width="1" height="1" fill="#FF0000"/>
<rect x="561" y="449" width="1" height="1" fill="#FF0000"/>
<rect x="562" y="450" width="1" height="1" fill="#FF0000"/>
<rect x="563" y="451" width="1" height="1" fill="#FF0000"/>
<rect x="567" y="455" width="1" height="1" fill="#FF0000"/>
<rect x="568" y="455" width="1" height="1" fill="#FF0000"/>
<rect x="569" y="456" width="1" height="1" fill="#FF0000"/>
<rect x="573" y="459" width="1" height="1" fill="#FF0000"/>
<rect x="574" y="460" width="1" height="1" fill="#FF0000"/>
<rect x="575" y="460" width="1" height="1" fill="#FF0000"/>
<rect x="579" y="463" width="1" height="1" fill="#FF0000"/>
<rect x="580" y="464" width="1" height="1" fill="#FF0000"/>
<rect x="581" y="464" width="1" height="1" fill="#FF0000"/>
<rect x="585" y="466" width="1" height="1" fill="#FF0000"/>
<rect x="586" y="466" width="1" height="1" fill="#FF0000"/>
<rect x="587" y="466" width="1" height="1" fill="#FF0000"/>
<rect x="591" y="467" width="1" height="1" fill="#FF0000"/>
<rect x="592" y="467" width="1" height="1" fill="#FF0000"/>
<rect x="593" y="467" width="1" height="1" fill="#FF0000"/>
<rect x="597" y="467" width="1" height="1" fill="#FF0000"/>
<rect x="598" y="467" width="1" height="1" fill="#FF0000"/>
<rect x="599" y="467" width="1" height="1" fill="#FF0000"/>
<rect x="603" y="467" width="1" height="1" fill="#FF0000"/>
<rect x="604" y="467" width="1" height="1" fill="#FF0000"/>
<rect x="605" y="466" width="1" height="1" fill="#FF0000"/>
<rect x="609" y="465" width="1" height="1" fill="#FF0000"/>
<rect x="610" y="465" width="1" height="1" fill="#FF0000"/>
<rect x="611" y="465" width="1" height="1" fill="#FF0000"/>
<rect x="615" y="464" width="1" height="1" fill="#FF0000"/>
<rect x="616" y="464" width="1" height="1" fill="#FF0000"/>
<rect x="617" y="463" width="1" height="1" fill="#FF0000"/>
<rect x="621" y="462" width="1" height="1" fill="#FF0000"/>
<rect x="622" y="462" width="1" height="1" fill="#FF0000"/>
<rect x="623" y="462" width="1" height="1" fill="#FF0000"/>
<rect x="627" y="462" width="1" height="1" fill="#FF0000"/>
<rect x="628" y="462" width="1" height="1" fill="#FF0000"/>
<rect x="629" y="462" width="1" height="1" fill="#FF0000"/>
<rect x="633" y="462" width="1" height="1" fill="#FF0000"/>
<rect x="634" y="462" width="1" height="1" fill="#FF0000"/>
<rect x="635" y="462" width="1" height="1" fill="#FF0000"/>
<rect x="639" y="463" width="1" height="1" fill="#FF0000"/>
<rect x="640" y="463" width="1" height="1" fill="#FF0000"/>
<rect x="641" y="463" width="1" height="1" fill="#FF0000"/>
<rect x="645" y="464" width="1" height="1" fill="#FF0000"/>
<rect x="646" y="464" width="1" height="1" fill="#FF0000"/>
<rect x="647" y="465" width="1" height="1" fill="#FF0000"/>
<rect x="651" y="466" width="1" height="1" fill="#FF0000"/>
<rect x="652" y="466" width="1" height="1" fill="#FF0000"/>
<rect x="653" y="466" width="1" height="1" fill="#FF0000"/>
<rect x="657" y="468" width="1" height="1" fill="#FF0000"/>
<rect x="658" y="468" width="1" height="1" fill="#FF0000"/>
<rect x="659" y="469" width="1" height="1" fill="#FF0000"/>
<rect x="663" y="470" width="1" height="1" fill="#FF0000"/>
<rect x="664" y="470" width="1" height="1" fill="#FF0000"/>
<rect x="665" y="470" width="1" height="1" fill="#FF0000"/>
<rect x="669" y="471" width="1" height="1" fill="#FF0000"/>
<rect x="670" y="471" width="1" height="1" fill="#FF0000"/>
<rect x="671" y="471" width="1" height="1" fill="#FF0000"/>
<rect x="2" y="2" width="699" height="1" fill="#000000"/>
<rect x="2" y="411" width="699" height="1" fill="#000000"/>
<rect x="2" y="2" width="1" height="410" fill="#000000"/>
<rect x="700" y="2" width="1" height="410" fill="#000000"/>
<rect x="2" y="413" width="699" height="1" fill="#000000"/>
<rect x="2" y="479" width="699" height="1" fill="#000000"/>
<rect x="2" y="413" width="1" height="67" fill="#000000"/>
<rect x="700" y="413" width="1" height="67" fill="#000000"/>
<rect x="701" y="29" width="2" height="1" fill="#000000"/>
<text x="706.3" y="33" fill="#000" stroke="#000" textLength="27.7" lengthAdjust="spacingAndGlyphs">1.3315</text>
<rect x="701" y="63" width="2" height="1" fill="#000000"/>
<text x="706.3" y="67" fill="#000" stroke="#000" textLength="27.7" lengthAdjust="spacingAndGlyphs">1.3295</text>
<rect x="701" y="97" width="2" height="1" fill="#000000"/>
<text x="706.3" y="101" fill="#000" stroke="#000" textLength="27.7" lengthAdjust="spacingAndGlyphs">1.3275</text>
<rect x="701" y="131" width="2" height="1" fill="#000000"/>
<text x="706.3" y="135" fill="#000" stroke="#000" textLength="27.7" lengthAdjust="spacingAndGlyphs">1.3255</text>
<rect x="701" y="165" width="2" height="1" fill="#000000"/>
<text x="706.3" y="169" fill="#000" stroke="#000" textLength="27.7" lengthAdjust="spacingAndGlyphs">1.3235</text>
<rect x="701" y="198" width="2" height="1" fill="#000000"/>
<text x="706.3" y="202" fill="#000" stroke="#000" textLength="27.7" lengthAdjust="spacingAndGlyphs">1.3215</text>
<rect x="701" y="232" width="2" height="1" fill="#000000"/>
<text x="706.3" y="236" fill="#000" stroke="#000" textLength="27.7" lengthAdjust="spacingAndGlyphs">1.3195</text>
<rect x="701" y="266" width="2" height="1" fill="#000000"/>
<text x="706.3" y="270" fill="#000" stroke="#000" textLength="27.7" lengthAdjust="spacingAndGlyphs">1.3175</text>
<rect x="701" y="300" width="2" height="1" fill="#000000"/>
<text x="706.3" y="304" fill="#000" stroke="#000" textLength="27.7" lengthAdjust="spacingAndGlyphs">1.3155</text>
<rect x="701" y="334" width="2" height="1" fill="#000000"/>
<text x="706.3" y="338" fill="#000" stroke="#000" textLength="27.7" lengthAdjust="spacingAndGlyphs">1.3135</text>
<rect x="701" y="368" width="2" height="1" fill="#000000"/>
<text x="706.3" y="372" fill="#000" stroke="#000" textLength="27.7" lengthAdjust="spacingAndGlyphs">1.3115</text>
<rect x="701" y="402" width="2" height="1" fill="#000000"/>
<text x="706.3" y="406" fill="#000" stroke="#000" textLength="27.7" lengthAdjust="spacingAndGlyphs">1.3095</text>
<rect x="702" y="98" width="36" height="11" fill="#FF0000"/>
<text x="706.3" y="107" fill="#fff" stroke="#fff" class="w" textLength="27.7" lengthAdjust="spacingAndGlyphs">1.3271</text>
<rect x="702" y="187" width="36" height="11" fill="#FF0000"/>
<text x="706.3" y="196" fill="#fff" stroke="#fff" class="w" textLength="27.7" lengthAdjust="spacingAndGlyphs">1.3218</text>
<rect x="702" y="245" width="36" height="11" fill="#FF0000"/>
<text x="706.3" y="254" fill="#fff" stroke="#fff" class="w" textLength="27.7" lengthAdjust="spacingAndGlyphs">1.3184</text>
<rect x="702" y="387" width="36" height="11" fill="#FF0000"/>
<text x="706.3" y="396" fill="#fff" stroke="#fff" class="w" textLength="27.7" lengthAdjust="spacingAndGlyphs">1.3100</text>
<rect x="702" y="321" width="36" height="11" fill="#000000"/>
<text x="706.3" y="330" fill="#fff" stroke="#fff" class="w" textLength="27.7" lengthAdjust="spacingAndGlyphs">1.3140</text>
<rect x="701" y="414" width="2" height="1" fill="#000000"/>
<rect x="701" y="443" width="2" height="1" fill="#000000"/>
<rect x="701" y="478" width="2" height="1" fill="#000000"/>
<text x="704" y="424" fill="#000" stroke="#000" textLength="33" lengthAdjust="spacingAndGlyphs">0.00199</text>
<text x="704" y="447" fill="#000" stroke="#000" textLength="18" lengthAdjust="spacingAndGlyphs">0.00</text>
<text x="704" y="476" fill="#000" stroke="#000" textLength="37" lengthAdjust="spacingAndGlyphs">-0.00248</text>
<rect x="3" y="480" width="1" height="3" fill="#000000"/>
<text x="2.1" y="492" fill="#000" stroke="#000" textLength="45.7" lengthAdjust="spacingAndGlyphs">6 Oct 2016</text>
<rect x="67" y="480" width="1" height="3" fill="#000000"/>
<text x="66.1" y="492" fill="#000" stroke="#000" textLength="49" lengthAdjust="spacingAndGlyphs">6 Oct 16:00</text>
<rect x="131" y="480" width="1" height="3" fill="#000000"/>
<text x="130.1" y="492" fill="#000" stroke="#000" textLength="49" lengthAdjust="spacingAndGlyphs">7 Oct 08:00</text>
<rect x="195" y="480" width="1" height="3" fill="#000000"/>
<text x="194.3" y="492" fill="#000" stroke="#000" textLength="53.7" lengthAdjust="spacingAndGlyphs">10 Oct 01:00</text>
<rect x="259" y="480" width="1" height="3" fill="#000000"/>
<text x="258.3" y="492" fill="#000" stroke="#000" textLength="53.7" lengthAdjust="spacingAndGlyphs">10 Oct 17:00</text>
<rect x="323" y="480" width="1" height="3" fill="#000000"/>
<text x="322.3" y="492" fill="#000" stroke="#000" textLength="53.7" lengthAdjust="spacingAndGlyphs">11 Oct 09:00</text>
<rect x="387" y="480" width="1" height="3" fill="#000000"/>
<text x="386.3" y="492" fill="#000" stroke="#000" textLength="53.7" lengthAdjust="spacingAndGlyphs">12 Oct 01:00</text>
<rect x="451" y="480" width="1" height="3" fill="#000000"/>
<text x="450.3" y="492" fill="#000" stroke="#000" textLength="53.7" lengthAdjust="spacingAndGlyphs">12 Oct 17:00</text>
<rect x="515" y="480" width="1" height="3" fill="#000000"/>
<text x="514.3" y="492" fill="#000" stroke="#000" textLength="53.7" lengthAdjust="spacingAndGlyphs">13 Oct 09:00</text>
<rect x="579" y="480" width="1" height="3" fill="#000000"/>
<text x="578.3" y="492" fill="#000" stroke="#000" textLength="53.7" lengthAdjust="spacingAndGlyphs">14 Oct 01:00</text>
<rect x="643" y="480" width="1" height="3" fill="#000000"/>
<text x="642.3" y="492" fill="#000" stroke="#000" textLength="53.7" lengthAdjust="spacingAndGlyphs">14 Oct 17:00</text>
<rect x="6" y="9" width="7" height="1" fill="#000000"/>
<rect x="7" y="10" width="5" height="1" fill="#000000"/>
<rect x="8" y="11" width="3" height="1" fill="#000000"/>
<rect x="9" y="12" width="1" height="1" fill="#000000"/>
<text x="18" y="14" fill="#000" stroke="#000" textLength="56" lengthAdjust="spacingAndGlyphs">USDCAD,H1</text>
<text x="80.3" y="14" fill="#000" stroke="#000" textLength="28" lengthAdjust="spacingAndGlyphs">1.3141</text>
<text x="111.3" y="14" fill="#000" stroke="#000" textLength="28" lengthAdjust="spacingAndGlyphs">1.3141</text>
<text x="142.3" y="14" fill="#000" stroke="#000" textLength="28" lengthAdjust="spacingAndGlyphs">1.3139</text>
<text x="173.3" y="14" fill="#000" stroke="#000" textLength="28" lengthAdjust="spacingAndGlyphs">1.3140</text>
<text x="7" y="426" fill="#000" stroke="#000" textLength="66" lengthAdjust="spacingAndGlyphs">MACD(12,26,9)</text>
<text x="76.3" y="426" fill="#000" stroke="#000" textLength="35.5" lengthAdjust="spacingAndGlyphs">-0.00197</text>
<text x="115.3" y="426" fill="#000" stroke="#000" textLength="35.5" lengthAdjust="spacingAndGlyphs">-0.00201</text>
</svg>
</body></html>
